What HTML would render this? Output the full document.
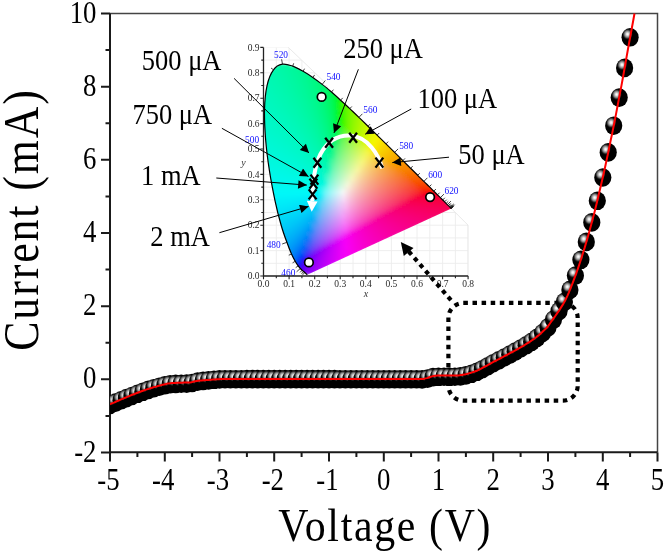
<!DOCTYPE html>
<html><head><meta charset="utf-8"><title>I-V</title>
<style>html,body{margin:0;padding:0;background:#fff;width:666px;height:554px;overflow:hidden}svg{display:block;will-change:transform}</style>
</head><body>
<svg width="666" height="554" viewBox="0 0 666 554">
<defs>
<radialGradient id="bg" cx="0.35" cy="0.33" r="0.3" fx="0.35" fy="0.33"><stop offset="0" stop-color="#ffffff"/><stop offset="0.2" stop-color="#e8e8e8"/><stop offset="0.55" stop-color="#8a8a8a"/><stop offset="0.85" stop-color="#1a1a1a"/><stop offset="1" stop-color="#000"/></radialGradient>
<ellipse id="ball" cx="0" cy="0" rx="8.6" ry="9.3" fill="url(#bg)"/>
<clipPath id="lc"><path d="M307.3,274.7C307.3,274.7 307.2,274.6 307.1,274.5C307.0,274.5 306.8,274.4 306.7,274.2C306.6,274.1 306.4,274.0 306.2,273.8C306.0,273.6 305.8,273.5 305.6,273.2C305.3,273.0 305.0,272.8 304.7,272.5C304.4,272.2 304.0,271.9 303.6,271.5C303.1,271.1 302.7,270.7 302.1,270.2C301.6,269.7 301.0,269.2 300.3,268.5C299.7,267.7 299.0,267.1 298.2,265.9C297.3,264.7 296.3,263.3 295.2,261.3C294.1,259.3 292.9,257.1 291.5,254.0C290.1,250.8 288.6,247.1 286.9,242.3C285.1,237.5 283.0,231.9 281.1,225.0C279.1,218.2 277.0,210.0 275.1,201.1C273.2,192.1 271.1,181.5 269.5,171.2C267.9,160.9 266.4,149.5 265.6,139.2C264.8,129.0 264.3,118.6 264.5,109.7C264.7,100.7 265.6,92.1 267.1,85.4C268.5,78.8 270.9,73.3 273.5,69.8C276.0,66.2 279.3,64.8 282.5,64.2C285.7,63.6 289.3,65.0 292.7,66.1C296.1,67.3 299.7,69.4 303.1,71.3C306.4,73.2 309.7,75.3 312.8,77.5C316.0,79.7 319.1,82.0 322.2,84.4C325.3,86.8 328.4,89.4 331.5,92.0C334.6,94.7 337.6,97.4 340.6,100.2C343.7,102.9 346.7,105.8 349.8,108.6C352.8,111.5 355.9,114.4 358.9,117.4C362.0,120.3 365.0,123.3 368.0,126.2C371.1,129.2 374.1,132.2 377.1,135.1C380.1,138.0 383.1,141.0 386.0,143.9C388.9,146.8 391.8,149.6 394.6,152.4C397.4,155.2 400.2,157.9 402.9,160.6C405.5,163.2 408.2,165.8 410.6,168.3C413.1,170.7 415.5,173.1 417.7,175.3C419.9,177.5 422.0,179.5 423.9,181.4C425.8,183.3 427.7,185.1 429.3,186.7C431.0,188.4 432.5,189.8 433.8,191.2C435.2,192.5 436.4,193.7 437.5,194.8C438.6,195.9 439.5,196.8 440.4,197.7C441.3,198.6 442.0,199.3 442.7,200.0C443.4,200.7 444.0,201.3 444.6,201.8C445.2,202.4 445.7,202.9 446.1,203.4C446.6,203.9 447.0,204.3 447.4,204.7C447.8,205.0 448.1,205.3 448.4,205.6C448.7,205.9 449.0,206.2 449.2,206.4C449.4,206.6 449.6,206.8 449.8,207.0C450.0,207.2 450.1,207.3 450.2,207.4C450.4,207.5 450.4,207.6 450.5,207.7C450.6,207.8 450.7,207.9 450.7,207.9C450.8,208.0 450.9,208.0 450.9,208.1C451.0,208.2 451.0,208.2 451.1,208.3C451.2,208.3 451.2,208.4 451.3,208.4C451.3,208.5 451.3,208.5 451.4,208.5C451.4,208.6 451.4,208.6 451.4,208.6C451.4,208.6 451.4,208.6 451.4,208.6Z"/></clipPath>
<linearGradient id="g0" x1="0" x2="1" y1="0" y2="0"><stop offset="0.000" stop-color="#00f8a8"/><stop offset="0.500" stop-color="#00f8a3"/><stop offset="1.000" stop-color="#00f89e"/></linearGradient><linearGradient id="g1" x1="0" x2="1" y1="0" y2="0"><stop offset="0.000" stop-color="#00f8ab"/><stop offset="0.333" stop-color="#00f8a5"/><stop offset="0.667" stop-color="#00f89e"/><stop offset="1.000" stop-color="#00f896"/></linearGradient><linearGradient id="g2" x1="0" x2="1" y1="0" y2="0"><stop offset="0.000" stop-color="#00f8ae"/><stop offset="0.200" stop-color="#00f8aa"/><stop offset="0.400" stop-color="#00f8a5"/><stop offset="0.600" stop-color="#00f8a0"/><stop offset="0.800" stop-color="#00f899"/><stop offset="1.000" stop-color="#00f892"/></linearGradient><linearGradient id="g3" x1="0" x2="1" y1="0" y2="0"><stop offset="0.000" stop-color="#00f8b0"/><stop offset="0.167" stop-color="#00f8ac"/><stop offset="0.333" stop-color="#00f8a7"/><stop offset="0.500" stop-color="#00f8a2"/><stop offset="0.667" stop-color="#00f89c"/><stop offset="0.833" stop-color="#00f895"/><stop offset="1.000" stop-color="#00f88d"/></linearGradient><linearGradient id="g4" x1="0" x2="1" y1="0" y2="0"><stop offset="0.000" stop-color="#00f8b1"/><stop offset="0.167" stop-color="#00f8ad"/><stop offset="0.333" stop-color="#00f8a8"/><stop offset="0.500" stop-color="#00f8a2"/><stop offset="0.667" stop-color="#00f89b"/><stop offset="0.833" stop-color="#00f893"/><stop offset="1.000" stop-color="#00f88a"/></linearGradient><linearGradient id="g5" x1="0" x2="1" y1="0" y2="0"><stop offset="0.000" stop-color="#00f8b2"/><stop offset="0.143" stop-color="#00f8ae"/><stop offset="0.286" stop-color="#00f8aa"/><stop offset="0.429" stop-color="#00f8a5"/><stop offset="0.571" stop-color="#00f89f"/><stop offset="0.714" stop-color="#00f898"/><stop offset="0.857" stop-color="#00f890"/><stop offset="1.000" stop-color="#00f886"/></linearGradient><linearGradient id="g6" x1="0" x2="1" y1="0" y2="0"><stop offset="0.000" stop-color="#00f8b4"/><stop offset="0.125" stop-color="#00f8b0"/><stop offset="0.250" stop-color="#00f8ac"/><stop offset="0.375" stop-color="#00f8a7"/><stop offset="0.500" stop-color="#00f8a1"/><stop offset="0.625" stop-color="#00f89b"/><stop offset="0.750" stop-color="#00f893"/><stop offset="0.875" stop-color="#00f88a"/><stop offset="1.000" stop-color="#00f87f"/></linearGradient><linearGradient id="g7" x1="0" x2="1" y1="0" y2="0"><stop offset="0.000" stop-color="#00f8b5"/><stop offset="0.125" stop-color="#00f8b1"/><stop offset="0.250" stop-color="#00f8ad"/><stop offset="0.375" stop-color="#00f8a8"/><stop offset="0.500" stop-color="#00f8a2"/><stop offset="0.625" stop-color="#00f89b"/><stop offset="0.750" stop-color="#00f893"/><stop offset="0.875" stop-color="#00f888"/><stop offset="1.000" stop-color="#00f87c"/></linearGradient><linearGradient id="g8" x1="0" x2="1" y1="0" y2="0"><stop offset="0.000" stop-color="#00f8b7"/><stop offset="0.111" stop-color="#00f8b3"/><stop offset="0.222" stop-color="#00f8af"/><stop offset="0.333" stop-color="#00f8aa"/><stop offset="0.444" stop-color="#00f8a5"/><stop offset="0.556" stop-color="#00f89e"/><stop offset="0.667" stop-color="#00f897"/><stop offset="0.778" stop-color="#00f88e"/><stop offset="0.889" stop-color="#00f883"/><stop offset="1.000" stop-color="#00f876"/></linearGradient><linearGradient id="g9" x1="0" x2="1" y1="0" y2="0"><stop offset="0.000" stop-color="#00f8b7"/><stop offset="0.111" stop-color="#00f8b3"/><stop offset="0.222" stop-color="#00f8af"/><stop offset="0.333" stop-color="#00f8aa"/><stop offset="0.444" stop-color="#00f8a4"/><stop offset="0.556" stop-color="#00f89e"/><stop offset="0.667" stop-color="#00f895"/><stop offset="0.778" stop-color="#00f88c"/><stop offset="0.889" stop-color="#00f87f"/><stop offset="1.000" stop-color="#00f86e"/></linearGradient><linearGradient id="g10" x1="0" x2="1" y1="0" y2="0"><stop offset="0.000" stop-color="#00f8b9"/><stop offset="0.100" stop-color="#00f8b5"/><stop offset="0.200" stop-color="#00f8b1"/><stop offset="0.300" stop-color="#00f8ac"/><stop offset="0.400" stop-color="#00f8a7"/><stop offset="0.500" stop-color="#00f8a1"/><stop offset="0.600" stop-color="#00f89a"/><stop offset="0.700" stop-color="#00f891"/><stop offset="0.800" stop-color="#00f886"/><stop offset="0.900" stop-color="#00f878"/><stop offset="1.000" stop-color="#00f865"/></linearGradient><linearGradient id="g11" x1="0" x2="1" y1="0" y2="0"><stop offset="0.000" stop-color="#00f8ba"/><stop offset="0.091" stop-color="#00f8b7"/><stop offset="0.182" stop-color="#00f8b3"/><stop offset="0.273" stop-color="#00f8af"/><stop offset="0.364" stop-color="#00f8aa"/><stop offset="0.455" stop-color="#00f8a4"/><stop offset="0.545" stop-color="#00f89e"/><stop offset="0.636" stop-color="#00f896"/><stop offset="0.727" stop-color="#00f88d"/><stop offset="0.818" stop-color="#00f882"/><stop offset="0.909" stop-color="#00f873"/><stop offset="1.000" stop-color="#00f85f"/></linearGradient><linearGradient id="g12" x1="0" x2="1" y1="0" y2="0"><stop offset="0.000" stop-color="#00f8bb"/><stop offset="0.091" stop-color="#00f8b7"/><stop offset="0.182" stop-color="#00f8b4"/><stop offset="0.273" stop-color="#00f8af"/><stop offset="0.364" stop-color="#00f8aa"/><stop offset="0.455" stop-color="#00f8a4"/><stop offset="0.545" stop-color="#00f89e"/><stop offset="0.636" stop-color="#00f896"/><stop offset="0.727" stop-color="#00f88c"/><stop offset="0.818" stop-color="#00f880"/><stop offset="0.909" stop-color="#00f86f"/><stop offset="1.000" stop-color="#00f857"/></linearGradient><linearGradient id="g13" x1="0" x2="1" y1="0" y2="0"><stop offset="0.000" stop-color="#00f8bc"/><stop offset="0.091" stop-color="#00f8b8"/><stop offset="0.182" stop-color="#00f8b4"/><stop offset="0.273" stop-color="#00f8af"/><stop offset="0.364" stop-color="#00f8aa"/><stop offset="0.455" stop-color="#00f8a4"/><stop offset="0.545" stop-color="#00f89d"/><stop offset="0.636" stop-color="#00f894"/><stop offset="0.727" stop-color="#00f889"/><stop offset="0.818" stop-color="#00f87b"/><stop offset="0.909" stop-color="#00f867"/><stop offset="1.000" stop-color="#00f847"/></linearGradient><linearGradient id="g14" x1="0" x2="1" y1="0" y2="0"><stop offset="0.000" stop-color="#00f8bc"/><stop offset="0.083" stop-color="#00f8b9"/><stop offset="0.167" stop-color="#00f8b5"/><stop offset="0.250" stop-color="#00f8b1"/><stop offset="0.333" stop-color="#00f8ac"/><stop offset="0.417" stop-color="#00f8a7"/><stop offset="0.500" stop-color="#00f8a0"/><stop offset="0.583" stop-color="#00f899"/><stop offset="0.667" stop-color="#00f88f"/><stop offset="0.750" stop-color="#00f884"/><stop offset="0.833" stop-color="#00f874"/><stop offset="0.917" stop-color="#00f85e"/><stop offset="1.000" stop-color="#00f838"/></linearGradient><linearGradient id="g15" x1="0" x2="1" y1="0" y2="0"><stop offset="0.000" stop-color="#00f8bd"/><stop offset="0.083" stop-color="#00f8ba"/><stop offset="0.167" stop-color="#00f8b6"/><stop offset="0.250" stop-color="#00f8b2"/><stop offset="0.333" stop-color="#00f8ad"/><stop offset="0.417" stop-color="#00f8a7"/><stop offset="0.500" stop-color="#00f8a0"/><stop offset="0.583" stop-color="#00f898"/><stop offset="0.667" stop-color="#00f88e"/><stop offset="0.750" stop-color="#00f881"/><stop offset="0.833" stop-color="#00f870"/><stop offset="0.917" stop-color="#00f857"/><stop offset="1.000" stop-color="#00f81f"/></linearGradient><linearGradient id="g16" x1="0" x2="1" y1="0" y2="0"><stop offset="0.000" stop-color="#00f8bf"/><stop offset="0.077" stop-color="#00f8bb"/><stop offset="0.154" stop-color="#00f8b8"/><stop offset="0.231" stop-color="#00f8b4"/><stop offset="0.308" stop-color="#00f8af"/><stop offset="0.385" stop-color="#00f8aa"/><stop offset="0.462" stop-color="#00f8a4"/><stop offset="0.538" stop-color="#00f89c"/><stop offset="0.615" stop-color="#00f893"/><stop offset="0.692" stop-color="#00f888"/><stop offset="0.769" stop-color="#00f87a"/><stop offset="0.846" stop-color="#00f865"/><stop offset="0.923" stop-color="#00f844"/><stop offset="1.000" stop-color="#30f800"/></linearGradient><linearGradient id="g17" x1="0" x2="1" y1="0" y2="0"><stop offset="0.000" stop-color="#00f8c0"/><stop offset="0.077" stop-color="#00f8bc"/><stop offset="0.154" stop-color="#00f8b9"/><stop offset="0.231" stop-color="#00f8b4"/><stop offset="0.308" stop-color="#00f8b0"/><stop offset="0.385" stop-color="#00f8aa"/><stop offset="0.462" stop-color="#00f8a4"/><stop offset="0.538" stop-color="#00f89c"/><stop offset="0.615" stop-color="#00f892"/><stop offset="0.692" stop-color="#00f886"/><stop offset="0.769" stop-color="#00f877"/><stop offset="0.846" stop-color="#00f85f"/><stop offset="0.923" stop-color="#00f834"/><stop offset="1.000" stop-color="#45f800"/></linearGradient><linearGradient id="g18" x1="0" x2="1" y1="0" y2="0"><stop offset="0.000" stop-color="#00f8c0"/><stop offset="0.077" stop-color="#00f8bd"/><stop offset="0.154" stop-color="#00f8b9"/><stop offset="0.231" stop-color="#00f8b5"/><stop offset="0.308" stop-color="#00f8b0"/><stop offset="0.385" stop-color="#00f8aa"/><stop offset="0.462" stop-color="#00f8a4"/><stop offset="0.538" stop-color="#00f89c"/><stop offset="0.615" stop-color="#00f892"/><stop offset="0.692" stop-color="#00f885"/><stop offset="0.769" stop-color="#00f873"/><stop offset="0.846" stop-color="#00f858"/><stop offset="0.923" stop-color="#00f819"/><stop offset="1.000" stop-color="#55f800"/></linearGradient><linearGradient id="g19" x1="0" x2="1" y1="0" y2="0"><stop offset="0.000" stop-color="#00f8c1"/><stop offset="0.071" stop-color="#00f8be"/><stop offset="0.143" stop-color="#00f8bb"/><stop offset="0.214" stop-color="#00f8b7"/><stop offset="0.286" stop-color="#00f8b2"/><stop offset="0.357" stop-color="#00f8ad"/><stop offset="0.429" stop-color="#00f8a7"/><stop offset="0.500" stop-color="#00f8a0"/><stop offset="0.571" stop-color="#00f897"/><stop offset="0.643" stop-color="#00f88c"/><stop offset="0.714" stop-color="#00f87e"/><stop offset="0.786" stop-color="#00f86a"/><stop offset="0.857" stop-color="#00f849"/><stop offset="0.929" stop-color="#2cf800"/><stop offset="1.000" stop-color="#62f800"/></linearGradient><linearGradient id="g20" x1="0" x2="1" y1="0" y2="0"><stop offset="0.000" stop-color="#00f8c2"/><stop offset="0.071" stop-color="#00f8bf"/><stop offset="0.143" stop-color="#00f8bb"/><stop offset="0.214" stop-color="#00f8b7"/><stop offset="0.286" stop-color="#00f8b3"/><stop offset="0.357" stop-color="#00f8ad"/><stop offset="0.429" stop-color="#00f8a7"/><stop offset="0.500" stop-color="#00f8a0"/><stop offset="0.571" stop-color="#00f896"/><stop offset="0.643" stop-color="#00f88a"/><stop offset="0.714" stop-color="#00f87b"/><stop offset="0.786" stop-color="#00f864"/><stop offset="0.857" stop-color="#00f83b"/><stop offset="0.929" stop-color="#42f800"/><stop offset="1.000" stop-color="#6ef800"/></linearGradient><linearGradient id="g21" x1="0" x2="1" y1="0" y2="0"><stop offset="0.000" stop-color="#00f8c3"/><stop offset="0.067" stop-color="#00f8c1"/><stop offset="0.133" stop-color="#00f8bd"/><stop offset="0.200" stop-color="#00f8b9"/><stop offset="0.267" stop-color="#00f8b5"/><stop offset="0.333" stop-color="#00f8b0"/><stop offset="0.400" stop-color="#00f8aa"/><stop offset="0.467" stop-color="#00f8a3"/><stop offset="0.533" stop-color="#00f89b"/><stop offset="0.600" stop-color="#00f891"/><stop offset="0.667" stop-color="#00f883"/><stop offset="0.733" stop-color="#00f870"/><stop offset="0.800" stop-color="#00f853"/><stop offset="0.867" stop-color="#12f800"/><stop offset="0.933" stop-color="#5cf800"/><stop offset="1.000" stop-color="#7ef800"/></linearGradient><linearGradient id="g22" x1="0" x2="1" y1="0" y2="0"><stop offset="0.000" stop-color="#00f8c4"/><stop offset="0.067" stop-color="#00f8c1"/><stop offset="0.133" stop-color="#00f8be"/><stop offset="0.200" stop-color="#00f8ba"/><stop offset="0.267" stop-color="#00f8b6"/><stop offset="0.333" stop-color="#00f8b1"/><stop offset="0.400" stop-color="#00f8ab"/><stop offset="0.467" stop-color="#00f8a3"/><stop offset="0.533" stop-color="#00f89b"/><stop offset="0.600" stop-color="#00f88f"/><stop offset="0.667" stop-color="#00f881"/><stop offset="0.733" stop-color="#00f86c"/><stop offset="0.800" stop-color="#00f849"/><stop offset="0.867" stop-color="#34f800"/><stop offset="0.933" stop-color="#69f800"/><stop offset="1.000" stop-color="#88f800"/></linearGradient><linearGradient id="g23" x1="0" x2="1" y1="0" y2="0"><stop offset="0.000" stop-color="#00f8c5"/><stop offset="0.067" stop-color="#00f8c2"/><stop offset="0.133" stop-color="#00f8bf"/><stop offset="0.200" stop-color="#00f8bb"/><stop offset="0.267" stop-color="#00f8b6"/><stop offset="0.333" stop-color="#00f8b1"/><stop offset="0.400" stop-color="#00f8ab"/><stop offset="0.467" stop-color="#00f8a3"/><stop offset="0.533" stop-color="#00f89a"/><stop offset="0.600" stop-color="#00f88e"/><stop offset="0.667" stop-color="#00f87e"/><stop offset="0.733" stop-color="#00f867"/><stop offset="0.800" stop-color="#00f83c"/><stop offset="0.867" stop-color="#47f800"/><stop offset="0.933" stop-color="#74f800"/><stop offset="1.000" stop-color="#92f800"/></linearGradient><linearGradient id="g24" x1="0" x2="1" y1="0" y2="0"><stop offset="0.000" stop-color="#00f8c6"/><stop offset="0.062" stop-color="#00f8c3"/><stop offset="0.125" stop-color="#00f8c0"/><stop offset="0.188" stop-color="#00f8bc"/><stop offset="0.250" stop-color="#00f8b8"/><stop offset="0.312" stop-color="#00f8b3"/><stop offset="0.375" stop-color="#00f8ae"/><stop offset="0.438" stop-color="#00f8a7"/><stop offset="0.500" stop-color="#00f89f"/><stop offset="0.562" stop-color="#00f895"/><stop offset="0.625" stop-color="#00f887"/><stop offset="0.688" stop-color="#00f875"/><stop offset="0.750" stop-color="#00f858"/><stop offset="0.812" stop-color="#00f800"/><stop offset="0.875" stop-color="#5df800"/><stop offset="0.938" stop-color="#81f800"/><stop offset="1.000" stop-color="#9bf800"/></linearGradient><linearGradient id="g25" x1="0" x2="1" y1="0" y2="0"><stop offset="0.000" stop-color="#00f8c7"/><stop offset="0.062" stop-color="#00f8c4"/><stop offset="0.125" stop-color="#00f8c1"/><stop offset="0.188" stop-color="#00f8bd"/><stop offset="0.250" stop-color="#00f8b9"/><stop offset="0.312" stop-color="#00f8b4"/><stop offset="0.375" stop-color="#00f8ae"/><stop offset="0.438" stop-color="#00f8a7"/><stop offset="0.500" stop-color="#00f89f"/><stop offset="0.562" stop-color="#00f894"/><stop offset="0.625" stop-color="#00f885"/><stop offset="0.688" stop-color="#00f871"/><stop offset="0.750" stop-color="#00f84f"/><stop offset="0.812" stop-color="#2ff800"/><stop offset="0.875" stop-color="#6af800"/><stop offset="0.938" stop-color="#8bf800"/><stop offset="1.000" stop-color="#a4f800"/></linearGradient><linearGradient id="g26" x1="0" x2="1" y1="0" y2="0"><stop offset="0.000" stop-color="#00f8c8"/><stop offset="0.062" stop-color="#00f8c5"/><stop offset="0.125" stop-color="#00f8c2"/><stop offset="0.188" stop-color="#00f8be"/><stop offset="0.250" stop-color="#00f8ba"/><stop offset="0.312" stop-color="#00f8b5"/><stop offset="0.375" stop-color="#00f8af"/><stop offset="0.438" stop-color="#00f8a7"/><stop offset="0.500" stop-color="#00f89e"/><stop offset="0.562" stop-color="#00f893"/><stop offset="0.625" stop-color="#00f883"/><stop offset="0.688" stop-color="#00f86d"/><stop offset="0.750" stop-color="#00f844"/><stop offset="0.812" stop-color="#44f800"/><stop offset="0.875" stop-color="#75f800"/><stop offset="0.938" stop-color="#94f800"/><stop offset="1.000" stop-color="#adf800"/></linearGradient><linearGradient id="g27" x1="0" x2="1" y1="0" y2="0"><stop offset="0.000" stop-color="#00f8c9"/><stop offset="0.059" stop-color="#00f8c6"/><stop offset="0.118" stop-color="#00f8c3"/><stop offset="0.176" stop-color="#00f8c0"/><stop offset="0.235" stop-color="#00f8bc"/><stop offset="0.294" stop-color="#00f8b7"/><stop offset="0.353" stop-color="#00f8b1"/><stop offset="0.412" stop-color="#00f8ab"/><stop offset="0.471" stop-color="#00f8a3"/><stop offset="0.529" stop-color="#00f899"/><stop offset="0.588" stop-color="#00f88c"/><stop offset="0.647" stop-color="#00f879"/><stop offset="0.706" stop-color="#00f85d"/><stop offset="0.765" stop-color="#00f812"/><stop offset="0.824" stop-color="#5ef800"/><stop offset="0.882" stop-color="#84f800"/><stop offset="0.941" stop-color="#9ff800"/><stop offset="1.000" stop-color="#b6f800"/></linearGradient><linearGradient id="g28" x1="0" x2="1" y1="0" y2="0"><stop offset="0.000" stop-color="#00f8ca"/><stop offset="0.059" stop-color="#00f8c7"/><stop offset="0.118" stop-color="#00f8c4"/><stop offset="0.176" stop-color="#00f8c1"/><stop offset="0.235" stop-color="#00f8bc"/><stop offset="0.294" stop-color="#00f8b8"/><stop offset="0.353" stop-color="#00f8b2"/><stop offset="0.412" stop-color="#00f8ab"/><stop offset="0.471" stop-color="#00f8a3"/><stop offset="0.529" stop-color="#00f898"/><stop offset="0.588" stop-color="#00f88a"/><stop offset="0.647" stop-color="#00f876"/><stop offset="0.706" stop-color="#00f855"/><stop offset="0.765" stop-color="#29f800"/><stop offset="0.824" stop-color="#6bf800"/><stop offset="0.882" stop-color="#8ef800"/><stop offset="0.941" stop-color="#a9f800"/><stop offset="1.000" stop-color="#bff800"/></linearGradient><linearGradient id="g29" x1="0" x2="1" y1="0" y2="0"><stop offset="0.000" stop-color="#00f8cb"/><stop offset="0.059" stop-color="#00f8c8"/><stop offset="0.118" stop-color="#00f8c5"/><stop offset="0.176" stop-color="#00f8c1"/><stop offset="0.235" stop-color="#00f8bd"/><stop offset="0.294" stop-color="#00f8b8"/><stop offset="0.353" stop-color="#00f8b2"/><stop offset="0.412" stop-color="#00f8ab"/><stop offset="0.471" stop-color="#00f8a2"/><stop offset="0.529" stop-color="#00f897"/><stop offset="0.588" stop-color="#00f887"/><stop offset="0.647" stop-color="#00f871"/><stop offset="0.706" stop-color="#00f849"/><stop offset="0.765" stop-color="#44f800"/><stop offset="0.824" stop-color="#77f800"/><stop offset="0.882" stop-color="#98f800"/><stop offset="0.941" stop-color="#b2f800"/><stop offset="1.000" stop-color="#c7f800"/></linearGradient><linearGradient id="g30" x1="0" x2="1" y1="0" y2="0"><stop offset="0.000" stop-color="#00f8cc"/><stop offset="0.056" stop-color="#00f8c9"/><stop offset="0.111" stop-color="#00f8c6"/><stop offset="0.167" stop-color="#00f8c3"/><stop offset="0.222" stop-color="#00f8bf"/><stop offset="0.278" stop-color="#00f8ba"/><stop offset="0.333" stop-color="#00f8b5"/><stop offset="0.389" stop-color="#00f8ae"/><stop offset="0.444" stop-color="#00f8a6"/><stop offset="0.500" stop-color="#00f89c"/><stop offset="0.556" stop-color="#00f88f"/><stop offset="0.611" stop-color="#00f87d"/><stop offset="0.667" stop-color="#00f860"/><stop offset="0.722" stop-color="#05f818"/><stop offset="0.778" stop-color="#61f800"/><stop offset="0.833" stop-color="#88f800"/><stop offset="0.889" stop-color="#a5f800"/><stop offset="0.944" stop-color="#bcf800"/><stop offset="1.000" stop-color="#d0f800"/></linearGradient><linearGradient id="g31" x1="0" x2="1" y1="0" y2="0"><stop offset="0.000" stop-color="#00f8cd"/><stop offset="0.056" stop-color="#00f8ca"/><stop offset="0.111" stop-color="#00f8c7"/><stop offset="0.167" stop-color="#00f8c3"/><stop offset="0.222" stop-color="#00f8c0"/><stop offset="0.278" stop-color="#00f8bb"/><stop offset="0.333" stop-color="#00f8b5"/><stop offset="0.389" stop-color="#00f8af"/><stop offset="0.444" stop-color="#00f8a6"/><stop offset="0.500" stop-color="#00f89c"/><stop offset="0.556" stop-color="#00f88e"/><stop offset="0.611" stop-color="#00f87a"/><stop offset="0.667" stop-color="#00f859"/><stop offset="0.722" stop-color="#35f820"/><stop offset="0.778" stop-color="#6ef800"/><stop offset="0.833" stop-color="#92f800"/><stop offset="0.889" stop-color="#aef800"/><stop offset="0.944" stop-color="#c5f800"/><stop offset="1.000" stop-color="#d9f800"/></linearGradient><linearGradient id="g32" x1="0" x2="1" y1="0" y2="0"><stop offset="0.000" stop-color="#00f8ce"/><stop offset="0.056" stop-color="#00f8cb"/><stop offset="0.111" stop-color="#00f8c8"/><stop offset="0.167" stop-color="#00f8c4"/><stop offset="0.222" stop-color="#00f8c0"/><stop offset="0.278" stop-color="#00f8bc"/><stop offset="0.333" stop-color="#00f8b6"/><stop offset="0.389" stop-color="#00f8af"/><stop offset="0.444" stop-color="#00f8a7"/><stop offset="0.500" stop-color="#00f89c"/><stop offset="0.556" stop-color="#00f88d"/><stop offset="0.611" stop-color="#00f877"/><stop offset="0.667" stop-color="#00f850"/><stop offset="0.722" stop-color="#4cf826"/><stop offset="0.778" stop-color="#7af800"/><stop offset="0.833" stop-color="#9cf800"/><stop offset="0.889" stop-color="#b7f800"/><stop offset="0.944" stop-color="#cef800"/><stop offset="1.000" stop-color="#e2f800"/></linearGradient><linearGradient id="g33" x1="0" x2="1" y1="0" y2="0"><stop offset="0.000" stop-color="#00f8cf"/><stop offset="0.053" stop-color="#00f8cc"/><stop offset="0.105" stop-color="#00f8c9"/><stop offset="0.158" stop-color="#00f8c6"/><stop offset="0.211" stop-color="#00f8c2"/><stop offset="0.263" stop-color="#00f8be"/><stop offset="0.316" stop-color="#00f8b9"/><stop offset="0.368" stop-color="#00f8b2"/><stop offset="0.421" stop-color="#00f8ab"/><stop offset="0.474" stop-color="#00f8a1"/><stop offset="0.526" stop-color="#00f894"/><stop offset="0.579" stop-color="#00f882"/><stop offset="0.632" stop-color="#00f866"/><stop offset="0.684" stop-color="#31f83c"/><stop offset="0.737" stop-color="#69f824"/><stop offset="0.789" stop-color="#8df800"/><stop offset="0.842" stop-color="#abf800"/><stop offset="0.895" stop-color="#c3f800"/><stop offset="0.947" stop-color="#d8f800"/><stop offset="1.000" stop-color="#eaf800"/></linearGradient><linearGradient id="g34" x1="0" x2="1" y1="0" y2="0"><stop offset="0.000" stop-color="#00f8d0"/><stop offset="0.053" stop-color="#00f8cd"/><stop offset="0.105" stop-color="#00f8ca"/><stop offset="0.158" stop-color="#00f8c7"/><stop offset="0.211" stop-color="#00f8c3"/><stop offset="0.263" stop-color="#00f8bf"/><stop offset="0.316" stop-color="#00f8b9"/><stop offset="0.368" stop-color="#00f8b3"/><stop offset="0.421" stop-color="#00f8ab"/><stop offset="0.474" stop-color="#00f8a0"/><stop offset="0.526" stop-color="#00f892"/><stop offset="0.579" stop-color="#00f87d"/><stop offset="0.632" stop-color="#00f85b"/><stop offset="0.684" stop-color="#4ff83f"/><stop offset="0.737" stop-color="#7af827"/><stop offset="0.789" stop-color="#9bf800"/><stop offset="0.842" stop-color="#b8f800"/><stop offset="0.895" stop-color="#cff800"/><stop offset="0.947" stop-color="#e4f800"/><stop offset="1.000" stop-color="#f6f800"/></linearGradient><linearGradient id="g35" x1="0" x2="1" y1="0" y2="0"><stop offset="0.000" stop-color="#00f8d1"/><stop offset="0.053" stop-color="#00f8ce"/><stop offset="0.105" stop-color="#00f8cb"/><stop offset="0.158" stop-color="#00f8c8"/><stop offset="0.211" stop-color="#00f8c4"/><stop offset="0.263" stop-color="#00f8c0"/><stop offset="0.316" stop-color="#00f8ba"/><stop offset="0.368" stop-color="#00f8b3"/><stop offset="0.421" stop-color="#00f8ab"/><stop offset="0.474" stop-color="#00f8a0"/><stop offset="0.526" stop-color="#00f891"/><stop offset="0.579" stop-color="#00f87a"/><stop offset="0.632" stop-color="#02f852"/><stop offset="0.684" stop-color="#60f843"/><stop offset="0.737" stop-color="#87f82d"/><stop offset="0.789" stop-color="#a5f800"/><stop offset="0.842" stop-color="#c1f800"/><stop offset="0.895" stop-color="#d9f800"/><stop offset="0.947" stop-color="#edf800"/><stop offset="1.000" stop-color="#f8f200"/></linearGradient><linearGradient id="g36" x1="0" x2="1" y1="0" y2="0"><stop offset="0.000" stop-color="#00f8d2"/><stop offset="0.050" stop-color="#00f8d0"/><stop offset="0.100" stop-color="#00f8cd"/><stop offset="0.150" stop-color="#00f8ca"/><stop offset="0.200" stop-color="#00f8c6"/><stop offset="0.250" stop-color="#00f8c2"/><stop offset="0.300" stop-color="#00f8bd"/><stop offset="0.350" stop-color="#00f8b7"/><stop offset="0.400" stop-color="#00f8af"/><stop offset="0.450" stop-color="#00f8a5"/><stop offset="0.500" stop-color="#00f898"/><stop offset="0.550" stop-color="#00f886"/><stop offset="0.600" stop-color="#00f868"/><stop offset="0.650" stop-color="#4ef851"/><stop offset="0.700" stop-color="#7af842"/><stop offset="0.750" stop-color="#9af82b"/><stop offset="0.800" stop-color="#b5f800"/><stop offset="0.850" stop-color="#cef800"/><stop offset="0.900" stop-color="#e4f800"/><stop offset="0.950" stop-color="#f7f800"/><stop offset="1.000" stop-color="#f8e900"/></linearGradient><linearGradient id="g37" x1="0" x2="1" y1="0" y2="0"><stop offset="0.000" stop-color="#00f8d3"/><stop offset="0.050" stop-color="#00f8d1"/><stop offset="0.100" stop-color="#00f8ce"/><stop offset="0.150" stop-color="#00f8cb"/><stop offset="0.200" stop-color="#00f8c7"/><stop offset="0.250" stop-color="#00f8c3"/><stop offset="0.300" stop-color="#00f8be"/><stop offset="0.350" stop-color="#00f8b7"/><stop offset="0.400" stop-color="#00f8b0"/><stop offset="0.450" stop-color="#00f8a6"/><stop offset="0.500" stop-color="#00f898"/><stop offset="0.550" stop-color="#00f884"/><stop offset="0.600" stop-color="#00f862"/><stop offset="0.650" stop-color="#5ff855"/><stop offset="0.700" stop-color="#86f846"/><stop offset="0.750" stop-color="#a5f831"/><stop offset="0.800" stop-color="#bff800"/><stop offset="0.850" stop-color="#d8f800"/><stop offset="0.900" stop-color="#eef800"/><stop offset="0.950" stop-color="#f8f000"/><stop offset="1.000" stop-color="#f8e100"/></linearGradient><linearGradient id="g38" x1="0" x2="1" y1="0" y2="0"><stop offset="0.000" stop-color="#00f8d4"/><stop offset="0.050" stop-color="#00f8d2"/><stop offset="0.100" stop-color="#00f8cf"/><stop offset="0.150" stop-color="#00f8cc"/><stop offset="0.200" stop-color="#00f8c8"/><stop offset="0.250" stop-color="#00f8c4"/><stop offset="0.300" stop-color="#00f8bf"/><stop offset="0.350" stop-color="#00f8b8"/><stop offset="0.400" stop-color="#00f8b0"/><stop offset="0.450" stop-color="#00f8a6"/><stop offset="0.500" stop-color="#00f897"/><stop offset="0.550" stop-color="#00f881"/><stop offset="0.600" stop-color="#30f864"/><stop offset="0.650" stop-color="#6df859"/><stop offset="0.700" stop-color="#92f84b"/><stop offset="0.750" stop-color="#aff836"/><stop offset="0.800" stop-color="#c9f807"/><stop offset="0.850" stop-color="#e2f800"/><stop offset="0.900" stop-color="#f7f800"/><stop offset="0.950" stop-color="#f8e700"/><stop offset="1.000" stop-color="#f8d900"/></linearGradient><linearGradient id="g39" x1="0" x2="1" y1="0" y2="0"><stop offset="0.000" stop-color="#00f8d5"/><stop offset="0.048" stop-color="#00f8d3"/><stop offset="0.095" stop-color="#00f8d0"/><stop offset="0.143" stop-color="#00f8cd"/><stop offset="0.190" stop-color="#00f8ca"/><stop offset="0.238" stop-color="#00f8c6"/><stop offset="0.286" stop-color="#00f8c1"/><stop offset="0.333" stop-color="#00f8bb"/><stop offset="0.381" stop-color="#00f8b3"/><stop offset="0.429" stop-color="#00f8aa"/><stop offset="0.476" stop-color="#00f89d"/><stop offset="0.524" stop-color="#00f88b"/><stop offset="0.571" stop-color="#08f86d"/><stop offset="0.619" stop-color="#62f864"/><stop offset="0.667" stop-color="#89f858"/><stop offset="0.714" stop-color="#a7f849"/><stop offset="0.762" stop-color="#c1f834"/><stop offset="0.810" stop-color="#d9f800"/><stop offset="0.857" stop-color="#eff800"/><stop offset="0.905" stop-color="#f8ee00"/><stop offset="0.952" stop-color="#f8de00"/><stop offset="1.000" stop-color="#f8d100"/></linearGradient><linearGradient id="g40" x1="0" x2="1" y1="0" y2="0"><stop offset="0.000" stop-color="#00f8d6"/><stop offset="0.048" stop-color="#00f8d4"/><stop offset="0.095" stop-color="#00f8d1"/><stop offset="0.143" stop-color="#00f8ce"/><stop offset="0.190" stop-color="#00f8cb"/><stop offset="0.238" stop-color="#00f8c7"/><stop offset="0.286" stop-color="#00f8c2"/><stop offset="0.333" stop-color="#00f8bc"/><stop offset="0.381" stop-color="#00f8b4"/><stop offset="0.429" stop-color="#00f8aa"/><stop offset="0.476" stop-color="#00f89d"/><stop offset="0.524" stop-color="#00f889"/><stop offset="0.571" stop-color="#35f871"/><stop offset="0.619" stop-color="#70f868"/><stop offset="0.667" stop-color="#94f85c"/><stop offset="0.714" stop-color="#b1f84e"/><stop offset="0.762" stop-color="#cbf83a"/><stop offset="0.810" stop-color="#e3f810"/><stop offset="0.857" stop-color="#f8f800"/><stop offset="0.905" stop-color="#f8e500"/><stop offset="0.952" stop-color="#f8d600"/><stop offset="1.000" stop-color="#f8ca00"/></linearGradient><linearGradient id="g41" x1="0" x2="1" y1="0" y2="0"><stop offset="0.000" stop-color="#00f8d7"/><stop offset="0.048" stop-color="#00f8d5"/><stop offset="0.095" stop-color="#00f8d3"/><stop offset="0.143" stop-color="#00f8d0"/><stop offset="0.190" stop-color="#00f8cc"/><stop offset="0.238" stop-color="#00f8c8"/><stop offset="0.286" stop-color="#00f8c3"/><stop offset="0.333" stop-color="#00f8bd"/><stop offset="0.381" stop-color="#00f8b5"/><stop offset="0.429" stop-color="#00f8ab"/><stop offset="0.476" stop-color="#00f89d"/><stop offset="0.524" stop-color="#00f887"/><stop offset="0.571" stop-color="#4bf875"/><stop offset="0.619" stop-color="#7df86c"/><stop offset="0.667" stop-color="#9ff860"/><stop offset="0.714" stop-color="#bcf852"/><stop offset="0.762" stop-color="#d5f83f"/><stop offset="0.810" stop-color="#edf81c"/><stop offset="0.857" stop-color="#f8ee00"/><stop offset="0.905" stop-color="#f8dc00"/><stop offset="0.952" stop-color="#f8ce00"/><stop offset="1.000" stop-color="#f8c300"/></linearGradient><linearGradient id="g42" x1="0" x2="1" y1="0" y2="0"><stop offset="0.000" stop-color="#00f8d8"/><stop offset="0.045" stop-color="#00f8d6"/><stop offset="0.091" stop-color="#00f8d4"/><stop offset="0.136" stop-color="#00f8d1"/><stop offset="0.182" stop-color="#00f8ce"/><stop offset="0.227" stop-color="#00f8ca"/><stop offset="0.273" stop-color="#00f8c6"/><stop offset="0.318" stop-color="#00f8c0"/><stop offset="0.364" stop-color="#00f8b9"/><stop offset="0.409" stop-color="#00f8b0"/><stop offset="0.455" stop-color="#00f8a4"/><stop offset="0.500" stop-color="#00f892"/><stop offset="0.545" stop-color="#36f87d"/><stop offset="0.591" stop-color="#71f875"/><stop offset="0.636" stop-color="#95f86c"/><stop offset="0.682" stop-color="#b3f861"/><stop offset="0.727" stop-color="#cdf853"/><stop offset="0.773" stop-color="#e5f83f"/><stop offset="0.818" stop-color="#f8f51a"/><stop offset="0.864" stop-color="#f8e200"/><stop offset="0.909" stop-color="#f8d200"/><stop offset="0.955" stop-color="#f8c600"/><stop offset="1.000" stop-color="#f8bc00"/></linearGradient><linearGradient id="g43" x1="0" x2="1" y1="0" y2="0"><stop offset="0.000" stop-color="#00f8d9"/><stop offset="0.045" stop-color="#00f8d7"/><stop offset="0.091" stop-color="#00f8d5"/><stop offset="0.136" stop-color="#00f8d2"/><stop offset="0.182" stop-color="#00f8cf"/><stop offset="0.227" stop-color="#00f8cb"/><stop offset="0.273" stop-color="#00f8c6"/><stop offset="0.318" stop-color="#00f8c1"/><stop offset="0.364" stop-color="#00f8b9"/><stop offset="0.409" stop-color="#00f8b0"/><stop offset="0.455" stop-color="#00f8a2"/><stop offset="0.500" stop-color="#00f88e"/><stop offset="0.545" stop-color="#51f880"/><stop offset="0.591" stop-color="#80f878"/><stop offset="0.636" stop-color="#a2f86f"/><stop offset="0.682" stop-color="#bff864"/><stop offset="0.727" stop-color="#d9f856"/><stop offset="0.773" stop-color="#f1f843"/><stop offset="0.818" stop-color="#f8ea1f"/><stop offset="0.864" stop-color="#f8d800"/><stop offset="0.909" stop-color="#f8ca00"/><stop offset="0.955" stop-color="#f8bf00"/><stop offset="1.000" stop-color="#f8b500"/></linearGradient><linearGradient id="g44" x1="0" x2="1" y1="0" y2="0"><stop offset="0.000" stop-color="#00f8db"/><stop offset="0.045" stop-color="#00f8d9"/><stop offset="0.091" stop-color="#00f8d6"/><stop offset="0.136" stop-color="#00f8d4"/><stop offset="0.182" stop-color="#00f8d0"/><stop offset="0.227" stop-color="#00f8cc"/><stop offset="0.273" stop-color="#00f8c8"/><stop offset="0.318" stop-color="#00f8c2"/><stop offset="0.364" stop-color="#00f8ba"/><stop offset="0.409" stop-color="#00f8b1"/><stop offset="0.455" stop-color="#00f8a2"/><stop offset="0.500" stop-color="#00f88d"/><stop offset="0.545" stop-color="#61f884"/><stop offset="0.591" stop-color="#8cf87d"/><stop offset="0.636" stop-color="#adf874"/><stop offset="0.682" stop-color="#c9f869"/><stop offset="0.727" stop-color="#e3f85b"/><stop offset="0.773" stop-color="#f8f648"/><stop offset="0.818" stop-color="#f8e025"/><stop offset="0.864" stop-color="#f8cf00"/><stop offset="0.909" stop-color="#f8c200"/><stop offset="0.955" stop-color="#f8b700"/><stop offset="1.000" stop-color="#f8ae00"/></linearGradient><linearGradient id="g45" x1="0" x2="1" y1="0" y2="0"><stop offset="0.000" stop-color="#00f8dc"/><stop offset="0.045" stop-color="#00f8da"/><stop offset="0.091" stop-color="#00f8d8"/><stop offset="0.136" stop-color="#00f8d5"/><stop offset="0.182" stop-color="#00f8d2"/><stop offset="0.227" stop-color="#00f8ce"/><stop offset="0.273" stop-color="#00f8c9"/><stop offset="0.318" stop-color="#00f8c3"/><stop offset="0.364" stop-color="#00f8bc"/><stop offset="0.409" stop-color="#00f8b1"/><stop offset="0.455" stop-color="#00f8a3"/><stop offset="0.500" stop-color="#28f88f"/><stop offset="0.545" stop-color="#70f888"/><stop offset="0.591" stop-color="#97f881"/><stop offset="0.636" stop-color="#b7f878"/><stop offset="0.682" stop-color="#d4f86d"/><stop offset="0.727" stop-color="#eef860"/><stop offset="0.773" stop-color="#f8eb49"/><stop offset="0.818" stop-color="#f8d72a"/><stop offset="0.864" stop-color="#f8c700"/><stop offset="0.909" stop-color="#f8bb00"/><stop offset="0.955" stop-color="#f8b000"/><stop offset="1.000" stop-color="#f8a800"/></linearGradient><linearGradient id="g46" x1="0" x2="1" y1="0" y2="0"><stop offset="0.000" stop-color="#00f8dd"/><stop offset="0.043" stop-color="#00f8db"/><stop offset="0.087" stop-color="#00f8d9"/><stop offset="0.130" stop-color="#00f8d7"/><stop offset="0.174" stop-color="#00f8d4"/><stop offset="0.217" stop-color="#00f8d0"/><stop offset="0.261" stop-color="#00f8cc"/><stop offset="0.304" stop-color="#00f8c7"/><stop offset="0.348" stop-color="#00f8c0"/><stop offset="0.391" stop-color="#00f8b7"/><stop offset="0.435" stop-color="#00f8aa"/><stop offset="0.478" stop-color="#00f897"/><stop offset="0.522" stop-color="#63f890"/><stop offset="0.565" stop-color="#8ef889"/><stop offset="0.609" stop-color="#aff882"/><stop offset="0.652" stop-color="#ccf879"/><stop offset="0.696" stop-color="#e6f86e"/><stop offset="0.739" stop-color="#f8f25e"/><stop offset="0.783" stop-color="#f8dd45"/><stop offset="0.826" stop-color="#f8cb27"/><stop offset="0.870" stop-color="#f8bd00"/><stop offset="0.913" stop-color="#f8b200"/><stop offset="0.957" stop-color="#f8a900"/><stop offset="1.000" stop-color="#f8a100"/></linearGradient><linearGradient id="g47" x1="0" x2="1" y1="0" y2="0"><stop offset="0.000" stop-color="#00f8de"/><stop offset="0.043" stop-color="#00f8dc"/><stop offset="0.087" stop-color="#00f8da"/><stop offset="0.130" stop-color="#00f8d8"/><stop offset="0.174" stop-color="#00f8d5"/><stop offset="0.217" stop-color="#00f8d1"/><stop offset="0.261" stop-color="#00f8cd"/><stop offset="0.304" stop-color="#00f8c7"/><stop offset="0.348" stop-color="#00f8c0"/><stop offset="0.391" stop-color="#00f8b7"/><stop offset="0.435" stop-color="#00f8a9"/><stop offset="0.478" stop-color="#34f899"/><stop offset="0.522" stop-color="#75f893"/><stop offset="0.565" stop-color="#9cf88d"/><stop offset="0.609" stop-color="#bcf886"/><stop offset="0.652" stop-color="#d8f87d"/><stop offset="0.696" stop-color="#f2f872"/><stop offset="0.739" stop-color="#f8e75d"/><stop offset="0.783" stop-color="#f8d346"/><stop offset="0.826" stop-color="#f8c32a"/><stop offset="0.870" stop-color="#f8b500"/><stop offset="0.913" stop-color="#f8ab00"/><stop offset="0.957" stop-color="#f8a200"/><stop offset="1.000" stop-color="#f89b00"/></linearGradient><linearGradient id="g48" x1="0" x2="1" y1="0" y2="0"><stop offset="0.000" stop-color="#00f8e0"/><stop offset="0.043" stop-color="#00f8de"/><stop offset="0.087" stop-color="#00f8dc"/><stop offset="0.130" stop-color="#00f8d9"/><stop offset="0.174" stop-color="#00f8d6"/><stop offset="0.217" stop-color="#00f8d3"/><stop offset="0.261" stop-color="#00f8cf"/><stop offset="0.304" stop-color="#00f8c9"/><stop offset="0.348" stop-color="#00f8c2"/><stop offset="0.391" stop-color="#00f8b8"/><stop offset="0.435" stop-color="#00f8aa"/><stop offset="0.478" stop-color="#4bf89d"/><stop offset="0.522" stop-color="#82f898"/><stop offset="0.565" stop-color="#a7f891"/><stop offset="0.609" stop-color="#c6f88a"/><stop offset="0.652" stop-color="#e3f882"/><stop offset="0.696" stop-color="#f8f475"/><stop offset="0.739" stop-color="#f8dd5e"/><stop offset="0.783" stop-color="#f8cb47"/><stop offset="0.826" stop-color="#f8bb2d"/><stop offset="0.870" stop-color="#f8ad00"/><stop offset="0.913" stop-color="#f8a300"/><stop offset="0.957" stop-color="#f89b00"/><stop offset="1.000" stop-color="#f89400"/></linearGradient><linearGradient id="g49" x1="0" x2="1" y1="0" y2="0"><stop offset="0.000" stop-color="#00f8e1"/><stop offset="0.042" stop-color="#00f8df"/><stop offset="0.083" stop-color="#00f8dd"/><stop offset="0.125" stop-color="#00f8db"/><stop offset="0.167" stop-color="#00f8d8"/><stop offset="0.208" stop-color="#00f8d5"/><stop offset="0.250" stop-color="#00f8d1"/><stop offset="0.292" stop-color="#00f8cd"/><stop offset="0.333" stop-color="#00f8c6"/><stop offset="0.375" stop-color="#00f8be"/><stop offset="0.417" stop-color="#00f8b2"/><stop offset="0.458" stop-color="#38f8a4"/><stop offset="0.500" stop-color="#78f89f"/><stop offset="0.542" stop-color="#9ff899"/><stop offset="0.583" stop-color="#bff893"/><stop offset="0.625" stop-color="#dcf88c"/><stop offset="0.667" stop-color="#f6f883"/><stop offset="0.708" stop-color="#f8e36e"/><stop offset="0.750" stop-color="#f8cf59"/><stop offset="0.792" stop-color="#f8bf44"/><stop offset="0.833" stop-color="#f8b12b"/><stop offset="0.875" stop-color="#f8a400"/><stop offset="0.917" stop-color="#f89c00"/><stop offset="0.958" stop-color="#f89400"/><stop offset="1.000" stop-color="#f88e00"/></linearGradient><linearGradient id="g50" x1="0" x2="1" y1="0" y2="0"><stop offset="0.000" stop-color="#00f8e2"/><stop offset="0.042" stop-color="#00f8e1"/><stop offset="0.083" stop-color="#00f8df"/><stop offset="0.125" stop-color="#00f8dd"/><stop offset="0.167" stop-color="#00f8da"/><stop offset="0.208" stop-color="#00f8d7"/><stop offset="0.250" stop-color="#00f8d3"/><stop offset="0.292" stop-color="#00f8ce"/><stop offset="0.333" stop-color="#00f8c8"/><stop offset="0.375" stop-color="#00f8bf"/><stop offset="0.417" stop-color="#00f8b3"/><stop offset="0.458" stop-color="#4ef8a8"/><stop offset="0.500" stop-color="#85f8a3"/><stop offset="0.542" stop-color="#aaf89e"/><stop offset="0.583" stop-color="#caf898"/><stop offset="0.625" stop-color="#e7f891"/><stop offset="0.667" stop-color="#f8f083"/><stop offset="0.708" stop-color="#f8d96e"/><stop offset="0.750" stop-color="#f8c759"/><stop offset="0.792" stop-color="#f8b745"/><stop offset="0.833" stop-color="#f8a92d"/><stop offset="0.875" stop-color="#f89d00"/><stop offset="0.917" stop-color="#f89500"/><stop offset="0.958" stop-color="#f88e00"/><stop offset="1.000" stop-color="#f88800"/></linearGradient><linearGradient id="g51" x1="0" x2="1" y1="0" y2="0"><stop offset="0.000" stop-color="#00f8e4"/><stop offset="0.042" stop-color="#00f8e2"/><stop offset="0.083" stop-color="#00f8e0"/><stop offset="0.125" stop-color="#00f8de"/><stop offset="0.167" stop-color="#00f8db"/><stop offset="0.208" stop-color="#00f8d8"/><stop offset="0.250" stop-color="#00f8d5"/><stop offset="0.292" stop-color="#00f8d0"/><stop offset="0.333" stop-color="#00f8c9"/><stop offset="0.375" stop-color="#00f8c0"/><stop offset="0.417" stop-color="#00f8b2"/><stop offset="0.458" stop-color="#65f8ac"/><stop offset="0.500" stop-color="#94f8a8"/><stop offset="0.542" stop-color="#b8f8a2"/><stop offset="0.583" stop-color="#d7f89c"/><stop offset="0.625" stop-color="#f3f896"/><stop offset="0.667" stop-color="#f8e481"/><stop offset="0.708" stop-color="#f8cf6d"/><stop offset="0.750" stop-color="#f8be59"/><stop offset="0.792" stop-color="#f8af45"/><stop offset="0.833" stop-color="#f8a12f"/><stop offset="0.875" stop-color="#f89509"/><stop offset="0.917" stop-color="#f88d00"/><stop offset="0.958" stop-color="#f88700"/><stop offset="1.000" stop-color="#f88100"/></linearGradient><linearGradient id="g52" x1="0" x2="1" y1="0" y2="0"><stop offset="0.000" stop-color="#00f8e5"/><stop offset="0.042" stop-color="#00f8e3"/><stop offset="0.083" stop-color="#00f8e2"/><stop offset="0.125" stop-color="#00f8e0"/><stop offset="0.167" stop-color="#00f8dd"/><stop offset="0.208" stop-color="#00f8da"/><stop offset="0.250" stop-color="#00f8d6"/><stop offset="0.292" stop-color="#00f8d2"/><stop offset="0.333" stop-color="#00f8cb"/><stop offset="0.375" stop-color="#00f8c2"/><stop offset="0.417" stop-color="#1cf8b5"/><stop offset="0.458" stop-color="#73f8b1"/><stop offset="0.500" stop-color="#9ff8ac"/><stop offset="0.542" stop-color="#c2f8a7"/><stop offset="0.583" stop-color="#e1f8a2"/><stop offset="0.625" stop-color="#f8f397"/><stop offset="0.667" stop-color="#f8da80"/><stop offset="0.708" stop-color="#f8c76c"/><stop offset="0.750" stop-color="#f8b65a"/><stop offset="0.792" stop-color="#f8a747"/><stop offset="0.833" stop-color="#f89a31"/><stop offset="0.875" stop-color="#f88e11"/><stop offset="0.917" stop-color="#f88600"/><stop offset="0.958" stop-color="#f88000"/><stop offset="1.000" stop-color="#f87b00"/></linearGradient><linearGradient id="g53" x1="0" x2="1" y1="0" y2="0"><stop offset="0.000" stop-color="#00f8e6"/><stop offset="0.040" stop-color="#00f8e5"/><stop offset="0.080" stop-color="#00f8e4"/><stop offset="0.120" stop-color="#00f8e2"/><stop offset="0.160" stop-color="#00f8e0"/><stop offset="0.200" stop-color="#00f8dd"/><stop offset="0.240" stop-color="#00f8d9"/><stop offset="0.280" stop-color="#00f8d5"/><stop offset="0.320" stop-color="#00f8d0"/><stop offset="0.360" stop-color="#00f8c8"/><stop offset="0.400" stop-color="#00f8bc"/><stop offset="0.440" stop-color="#69f8b7"/><stop offset="0.480" stop-color="#98f8b3"/><stop offset="0.520" stop-color="#bcf8af"/><stop offset="0.560" stop-color="#dbf8aa"/><stop offset="0.600" stop-color="#f8f8a5"/><stop offset="0.640" stop-color="#f8df8d"/><stop offset="0.680" stop-color="#f8cb79"/><stop offset="0.720" stop-color="#f8b967"/><stop offset="0.760" stop-color="#f8aa56"/><stop offset="0.800" stop-color="#f89d44"/><stop offset="0.840" stop-color="#f8912f"/><stop offset="0.880" stop-color="#f88610"/><stop offset="0.920" stop-color="#f87f00"/><stop offset="0.960" stop-color="#f87900"/><stop offset="1.000" stop-color="#f87500"/></linearGradient><linearGradient id="g54" x1="0" x2="1" y1="0" y2="0"><stop offset="0.000" stop-color="#00f8e8"/><stop offset="0.040" stop-color="#00f8e7"/><stop offset="0.080" stop-color="#00f8e5"/><stop offset="0.120" stop-color="#00f8e4"/><stop offset="0.160" stop-color="#00f8e1"/><stop offset="0.200" stop-color="#00f8df"/><stop offset="0.240" stop-color="#00f8dc"/><stop offset="0.280" stop-color="#00f8d7"/><stop offset="0.320" stop-color="#00f8d2"/><stop offset="0.360" stop-color="#00f8ca"/><stop offset="0.400" stop-color="#25f8bf"/><stop offset="0.440" stop-color="#77f8bc"/><stop offset="0.480" stop-color="#a3f8b9"/><stop offset="0.520" stop-color="#c7f8b4"/><stop offset="0.560" stop-color="#e6f8b0"/><stop offset="0.600" stop-color="#f8eda2"/><stop offset="0.640" stop-color="#f8d68c"/><stop offset="0.680" stop-color="#f8c279"/><stop offset="0.720" stop-color="#f8b167"/><stop offset="0.760" stop-color="#f8a356"/><stop offset="0.800" stop-color="#f89645"/><stop offset="0.840" stop-color="#f88a31"/><stop offset="0.880" stop-color="#f87f16"/><stop offset="0.920" stop-color="#f87700"/><stop offset="0.960" stop-color="#f87200"/><stop offset="1.000" stop-color="#f86e00"/></linearGradient><linearGradient id="g55" x1="0" x2="1" y1="0" y2="0"><stop offset="0.000" stop-color="#00f8e9"/><stop offset="0.040" stop-color="#00f8e8"/><stop offset="0.080" stop-color="#00f8e7"/><stop offset="0.120" stop-color="#00f8e5"/><stop offset="0.160" stop-color="#00f8e3"/><stop offset="0.200" stop-color="#00f8e1"/><stop offset="0.240" stop-color="#00f8dd"/><stop offset="0.280" stop-color="#00f8d9"/><stop offset="0.320" stop-color="#00f8d4"/><stop offset="0.360" stop-color="#00f8cc"/><stop offset="0.400" stop-color="#4cf8c4"/><stop offset="0.440" stop-color="#89f8c1"/><stop offset="0.480" stop-color="#b2f8be"/><stop offset="0.520" stop-color="#d4f8ba"/><stop offset="0.560" stop-color="#f4f8b5"/><stop offset="0.600" stop-color="#f8e19f"/><stop offset="0.640" stop-color="#f8cb8a"/><stop offset="0.680" stop-color="#f8b977"/><stop offset="0.720" stop-color="#f8a966"/><stop offset="0.760" stop-color="#f89b56"/><stop offset="0.800" stop-color="#f88e45"/><stop offset="0.840" stop-color="#f88333"/><stop offset="0.880" stop-color="#f87819"/><stop offset="0.920" stop-color="#f87000"/><stop offset="0.960" stop-color="#f86b00"/><stop offset="1.000" stop-color="#f86700"/></linearGradient><linearGradient id="g56" x1="0" x2="1" y1="0" y2="0"><stop offset="0.000" stop-color="#00f8eb"/><stop offset="0.038" stop-color="#00f8ea"/><stop offset="0.077" stop-color="#00f8e9"/><stop offset="0.115" stop-color="#00f8e7"/><stop offset="0.154" stop-color="#00f8e5"/><stop offset="0.192" stop-color="#00f8e3"/><stop offset="0.231" stop-color="#00f8e1"/><stop offset="0.269" stop-color="#00f8dd"/><stop offset="0.308" stop-color="#00f8d8"/><stop offset="0.346" stop-color="#00f8d2"/><stop offset="0.385" stop-color="#3cf8ca"/><stop offset="0.423" stop-color="#81f8c7"/><stop offset="0.462" stop-color="#abf8c5"/><stop offset="0.500" stop-color="#cff8c1"/><stop offset="0.538" stop-color="#eff8bd"/><stop offset="0.577" stop-color="#f8e6ab"/><stop offset="0.615" stop-color="#f8cf95"/><stop offset="0.654" stop-color="#f8bc83"/><stop offset="0.692" stop-color="#f8ac72"/><stop offset="0.731" stop-color="#f89d62"/><stop offset="0.769" stop-color="#f89153"/><stop offset="0.808" stop-color="#f88543"/><stop offset="0.846" stop-color="#f87a31"/><stop offset="0.885" stop-color="#f86f19"/><stop offset="0.923" stop-color="#f86800"/><stop offset="0.962" stop-color="#f86400"/><stop offset="1.000" stop-color="#f86000"/></linearGradient><linearGradient id="g57" x1="0" x2="1" y1="0" y2="0"><stop offset="0.000" stop-color="#00f8ec"/><stop offset="0.038" stop-color="#00f8eb"/><stop offset="0.077" stop-color="#00f8ea"/><stop offset="0.115" stop-color="#00f8e9"/><stop offset="0.154" stop-color="#00f8e7"/><stop offset="0.192" stop-color="#00f8e5"/><stop offset="0.231" stop-color="#00f8e3"/><stop offset="0.269" stop-color="#00f8df"/><stop offset="0.308" stop-color="#00f8db"/><stop offset="0.346" stop-color="#00f8d4"/><stop offset="0.385" stop-color="#5af8cf"/><stop offset="0.423" stop-color="#92f8cd"/><stop offset="0.462" stop-color="#baf8ca"/><stop offset="0.500" stop-color="#ddf8c7"/><stop offset="0.538" stop-color="#f8f4c0"/><stop offset="0.577" stop-color="#f8daa7"/><stop offset="0.615" stop-color="#f8c593"/><stop offset="0.654" stop-color="#f8b381"/><stop offset="0.692" stop-color="#f8a371"/><stop offset="0.731" stop-color="#f89562"/><stop offset="0.769" stop-color="#f88953"/><stop offset="0.808" stop-color="#f87d43"/><stop offset="0.846" stop-color="#f87232"/><stop offset="0.885" stop-color="#f8681b"/><stop offset="0.923" stop-color="#f86000"/><stop offset="0.962" stop-color="#f85c00"/><stop offset="1.000" stop-color="#f85900"/></linearGradient><linearGradient id="g58" x1="0" x2="1" y1="0" y2="0"><stop offset="0.000" stop-color="#00f8ee"/><stop offset="0.038" stop-color="#00f8ed"/><stop offset="0.077" stop-color="#00f8ec"/><stop offset="0.115" stop-color="#00f8eb"/><stop offset="0.154" stop-color="#00f8ea"/><stop offset="0.192" stop-color="#00f8e8"/><stop offset="0.231" stop-color="#00f8e5"/><stop offset="0.269" stop-color="#00f8e2"/><stop offset="0.308" stop-color="#00f8de"/><stop offset="0.346" stop-color="#00f8d8"/><stop offset="0.385" stop-color="#6af8d4"/><stop offset="0.423" stop-color="#9ef8d2"/><stop offset="0.462" stop-color="#c6f8d0"/><stop offset="0.500" stop-color="#e8f8cd"/><stop offset="0.538" stop-color="#f8e9bd"/><stop offset="0.577" stop-color="#f8d0a6"/><stop offset="0.615" stop-color="#f8bc92"/><stop offset="0.654" stop-color="#f8aa80"/><stop offset="0.692" stop-color="#f89b71"/><stop offset="0.731" stop-color="#f88e62"/><stop offset="0.769" stop-color="#f88153"/><stop offset="0.808" stop-color="#f87644"/><stop offset="0.846" stop-color="#f86b34"/><stop offset="0.885" stop-color="#f8601e"/><stop offset="0.923" stop-color="#f85800"/><stop offset="0.962" stop-color="#f85400"/><stop offset="1.000" stop-color="#f85100"/></linearGradient><linearGradient id="g59" x1="0" x2="1" y1="0" y2="0"><stop offset="0.000" stop-color="#00f8f0"/><stop offset="0.038" stop-color="#00f8ef"/><stop offset="0.077" stop-color="#00f8ee"/><stop offset="0.115" stop-color="#00f8ed"/><stop offset="0.154" stop-color="#00f8ec"/><stop offset="0.192" stop-color="#00f8ea"/><stop offset="0.231" stop-color="#00f8e8"/><stop offset="0.269" stop-color="#00f8e6"/><stop offset="0.308" stop-color="#00f8e2"/><stop offset="0.346" stop-color="#04f8dc"/><stop offset="0.385" stop-color="#79f8da"/><stop offset="0.423" stop-color="#aaf8d8"/><stop offset="0.462" stop-color="#d1f8d6"/><stop offset="0.500" stop-color="#f4f8d4"/><stop offset="0.538" stop-color="#f8dfbb"/><stop offset="0.577" stop-color="#f8c7a4"/><stop offset="0.615" stop-color="#f8b391"/><stop offset="0.654" stop-color="#f8a280"/><stop offset="0.692" stop-color="#f89470"/><stop offset="0.731" stop-color="#f88662"/><stop offset="0.769" stop-color="#f87a54"/><stop offset="0.808" stop-color="#f86f45"/><stop offset="0.846" stop-color="#f86335"/><stop offset="0.885" stop-color="#f85821"/><stop offset="0.923" stop-color="#f84f00"/><stop offset="0.962" stop-color="#f84c00"/><stop offset="1.000" stop-color="#f84900"/></linearGradient><linearGradient id="g60" x1="0" x2="1" y1="0" y2="0"><stop offset="0.000" stop-color="#00f8f1"/><stop offset="0.037" stop-color="#00f8f1"/><stop offset="0.074" stop-color="#00f8f0"/><stop offset="0.111" stop-color="#00f8ef"/><stop offset="0.148" stop-color="#00f8ee"/><stop offset="0.185" stop-color="#00f8ed"/><stop offset="0.222" stop-color="#00f8eb"/><stop offset="0.259" stop-color="#00f8e9"/><stop offset="0.296" stop-color="#00f8e6"/><stop offset="0.333" stop-color="#00f8e2"/><stop offset="0.370" stop-color="#77f8e0"/><stop offset="0.407" stop-color="#a8f8df"/><stop offset="0.444" stop-color="#cff8dd"/><stop offset="0.481" stop-color="#f2f8db"/><stop offset="0.519" stop-color="#f8e0c4"/><stop offset="0.556" stop-color="#f8c8ad"/><stop offset="0.593" stop-color="#f8b499"/><stop offset="0.630" stop-color="#f8a489"/><stop offset="0.667" stop-color="#f89579"/><stop offset="0.704" stop-color="#f8876b"/><stop offset="0.741" stop-color="#f87b5e"/><stop offset="0.778" stop-color="#f87050"/><stop offset="0.815" stop-color="#f86443"/><stop offset="0.852" stop-color="#f85a33"/><stop offset="0.889" stop-color="#f84f20"/><stop offset="0.926" stop-color="#f84500"/><stop offset="0.963" stop-color="#f84200"/><stop offset="1.000" stop-color="#f84000"/></linearGradient><linearGradient id="g61" x1="0" x2="1" y1="0" y2="0"><stop offset="0.000" stop-color="#00f8f3"/><stop offset="0.037" stop-color="#00f8f3"/><stop offset="0.074" stop-color="#00f8f2"/><stop offset="0.111" stop-color="#00f8f2"/><stop offset="0.148" stop-color="#00f8f1"/><stop offset="0.185" stop-color="#00f8f0"/><stop offset="0.222" stop-color="#00f8ef"/><stop offset="0.259" stop-color="#00f8ed"/><stop offset="0.296" stop-color="#00f8ea"/><stop offset="0.333" stop-color="#34f8e7"/><stop offset="0.370" stop-color="#85f8e6"/><stop offset="0.407" stop-color="#b4f8e5"/><stop offset="0.444" stop-color="#dbf8e4"/><stop offset="0.481" stop-color="#f8f2dd"/><stop offset="0.519" stop-color="#f8d6c1"/><stop offset="0.556" stop-color="#f8bfab"/><stop offset="0.593" stop-color="#f8ac98"/><stop offset="0.630" stop-color="#f89c88"/><stop offset="0.667" stop-color="#f88d79"/><stop offset="0.704" stop-color="#f8806b"/><stop offset="0.741" stop-color="#f8745e"/><stop offset="0.778" stop-color="#f86851"/><stop offset="0.815" stop-color="#f85d43"/><stop offset="0.852" stop-color="#f85135"/><stop offset="0.889" stop-color="#f84622"/><stop offset="0.926" stop-color="#f83900"/><stop offset="0.963" stop-color="#f83700"/><stop offset="1.000" stop-color="#f83500"/></linearGradient><linearGradient id="g62" x1="0" x2="1" y1="0" y2="0"><stop offset="0.000" stop-color="#00f8f5"/><stop offset="0.037" stop-color="#00f8f5"/><stop offset="0.074" stop-color="#00f8f4"/><stop offset="0.111" stop-color="#00f8f4"/><stop offset="0.148" stop-color="#00f8f3"/><stop offset="0.185" stop-color="#00f8f3"/><stop offset="0.222" stop-color="#00f8f2"/><stop offset="0.259" stop-color="#00f8f1"/><stop offset="0.296" stop-color="#00f8ef"/><stop offset="0.333" stop-color="#4df8ed"/><stop offset="0.370" stop-color="#92f8ed"/><stop offset="0.407" stop-color="#c0f8ec"/><stop offset="0.444" stop-color="#e7f8eb"/><stop offset="0.481" stop-color="#f8e7d9"/><stop offset="0.519" stop-color="#f8ccbf"/><stop offset="0.556" stop-color="#f8b6a9"/><stop offset="0.593" stop-color="#f8a497"/><stop offset="0.630" stop-color="#f89487"/><stop offset="0.667" stop-color="#f88579"/><stop offset="0.704" stop-color="#f8786b"/><stop offset="0.741" stop-color="#f86c5e"/><stop offset="0.778" stop-color="#f86051"/><stop offset="0.815" stop-color="#f85444"/><stop offset="0.852" stop-color="#f84836"/><stop offset="0.889" stop-color="#f83c24"/><stop offset="0.926" stop-color="#f82d04"/><stop offset="0.963" stop-color="#f82a00"/><stop offset="1.000" stop-color="#f82800"/></linearGradient><linearGradient id="g63" x1="0" x2="1" y1="0" y2="0"><stop offset="0.000" stop-color="#00f8f7"/><stop offset="0.037" stop-color="#00f8f7"/><stop offset="0.074" stop-color="#00f8f7"/><stop offset="0.111" stop-color="#00f8f6"/><stop offset="0.148" stop-color="#00f8f6"/><stop offset="0.185" stop-color="#00f8f6"/><stop offset="0.222" stop-color="#00f8f6"/><stop offset="0.259" stop-color="#00f8f5"/><stop offset="0.296" stop-color="#00f8f4"/><stop offset="0.333" stop-color="#69f8f4"/><stop offset="0.370" stop-color="#a4f8f3"/><stop offset="0.407" stop-color="#d0f8f3"/><stop offset="0.444" stop-color="#f7f8f3"/><stop offset="0.481" stop-color="#f8d9d4"/><stop offset="0.519" stop-color="#f8c0bb"/><stop offset="0.556" stop-color="#f8aca7"/><stop offset="0.593" stop-color="#f89a95"/><stop offset="0.630" stop-color="#f88b86"/><stop offset="0.667" stop-color="#f87d78"/><stop offset="0.704" stop-color="#f8706b"/><stop offset="0.741" stop-color="#f8635e"/><stop offset="0.778" stop-color="#f85751"/><stop offset="0.815" stop-color="#f84b44"/><stop offset="0.852" stop-color="#f83e36"/><stop offset="0.889" stop-color="#f82f26"/><stop offset="0.926" stop-color="#f81c09"/><stop offset="0.963" stop-color="#f81700"/><stop offset="1.000" stop-color="#f81500"/></linearGradient><linearGradient id="g64" x1="0" x2="1" y1="0" y2="0"><stop offset="0.000" stop-color="#00f8f8"/><stop offset="0.036" stop-color="#00f8f8"/><stop offset="0.071" stop-color="#00f8f8"/><stop offset="0.107" stop-color="#00f8f8"/><stop offset="0.143" stop-color="#00f8f8"/><stop offset="0.179" stop-color="#00f8f8"/><stop offset="0.214" stop-color="#00f8f8"/><stop offset="0.250" stop-color="#00f7f8"/><stop offset="0.286" stop-color="#00f7f8"/><stop offset="0.321" stop-color="#60f7f8"/><stop offset="0.357" stop-color="#9ef7f8"/><stop offset="0.393" stop-color="#caf6f8"/><stop offset="0.429" stop-color="#f1f6f8"/><stop offset="0.464" stop-color="#f8dcde"/><stop offset="0.500" stop-color="#f8c2c4"/><stop offset="0.536" stop-color="#f8adb0"/><stop offset="0.571" stop-color="#f89c9e"/><stop offset="0.607" stop-color="#f88c8e"/><stop offset="0.643" stop-color="#f87e80"/><stop offset="0.679" stop-color="#f87173"/><stop offset="0.714" stop-color="#f86467"/><stop offset="0.750" stop-color="#f8585b"/><stop offset="0.786" stop-color="#f84c4f"/><stop offset="0.821" stop-color="#f83f43"/><stop offset="0.857" stop-color="#f83035"/><stop offset="0.893" stop-color="#f81d25"/><stop offset="0.929" stop-color="#f80012"/><stop offset="0.964" stop-color="#f80011"/><stop offset="1.000" stop-color="#f80010"/></linearGradient><linearGradient id="g65" x1="0" x2="1" y1="0" y2="0"><stop offset="0.000" stop-color="#00f6f8"/><stop offset="0.036" stop-color="#00f6f8"/><stop offset="0.071" stop-color="#00f6f8"/><stop offset="0.107" stop-color="#00f5f8"/><stop offset="0.143" stop-color="#00f5f8"/><stop offset="0.179" stop-color="#00f4f8"/><stop offset="0.214" stop-color="#00f4f8"/><stop offset="0.250" stop-color="#00f2f8"/><stop offset="0.286" stop-color="#00f1f8"/><stop offset="0.321" stop-color="#75f0f8"/><stop offset="0.357" stop-color="#aaf0f8"/><stop offset="0.393" stop-color="#d4eff8"/><stop offset="0.429" stop-color="#f8edf7"/><stop offset="0.464" stop-color="#f8cfd8"/><stop offset="0.500" stop-color="#f8b7c0"/><stop offset="0.536" stop-color="#f8a3ad"/><stop offset="0.571" stop-color="#f8929c"/><stop offset="0.607" stop-color="#f8838d"/><stop offset="0.643" stop-color="#f8757f"/><stop offset="0.679" stop-color="#f86873"/><stop offset="0.714" stop-color="#f85b67"/><stop offset="0.750" stop-color="#f84e5b"/><stop offset="0.786" stop-color="#f8414f"/><stop offset="0.821" stop-color="#f83243"/><stop offset="0.857" stop-color="#f82036"/><stop offset="0.893" stop-color="#f80028"/><stop offset="0.929" stop-color="#f80027"/><stop offset="0.964" stop-color="#f80025"/><stop offset="1.000" stop-color="#f80024"/></linearGradient><linearGradient id="g66" x1="0" x2="1" y1="0" y2="0"><stop offset="0.000" stop-color="#00f4f8"/><stop offset="0.036" stop-color="#00f4f8"/><stop offset="0.071" stop-color="#00f3f8"/><stop offset="0.107" stop-color="#00f3f8"/><stop offset="0.143" stop-color="#00f2f8"/><stop offset="0.179" stop-color="#00f1f8"/><stop offset="0.214" stop-color="#00eff8"/><stop offset="0.250" stop-color="#00edf8"/><stop offset="0.286" stop-color="#1ceaf8"/><stop offset="0.321" stop-color="#80eaf8"/><stop offset="0.357" stop-color="#b1e9f8"/><stop offset="0.393" stop-color="#dae7f8"/><stop offset="0.429" stop-color="#f8e1f3"/><stop offset="0.464" stop-color="#f8c4d6"/><stop offset="0.500" stop-color="#f8aebe"/><stop offset="0.536" stop-color="#f89aab"/><stop offset="0.571" stop-color="#f88a9b"/><stop offset="0.607" stop-color="#f87b8c"/><stop offset="0.643" stop-color="#f86d7f"/><stop offset="0.679" stop-color="#f85f72"/><stop offset="0.714" stop-color="#f85267"/><stop offset="0.750" stop-color="#f8445b"/><stop offset="0.786" stop-color="#f83650"/><stop offset="0.821" stop-color="#f82344"/><stop offset="0.857" stop-color="#f80037"/><stop offset="0.893" stop-color="#f80035"/><stop offset="0.929" stop-color="#f80033"/><stop offset="0.964" stop-color="#f80031"/><stop offset="1.000" stop-color="#f80030"/></linearGradient><linearGradient id="g67" x1="0" x2="1" y1="0" y2="0"><stop offset="0.000" stop-color="#00f2f8"/><stop offset="0.034" stop-color="#00f2f8"/><stop offset="0.069" stop-color="#00f1f8"/><stop offset="0.103" stop-color="#00f0f8"/><stop offset="0.138" stop-color="#00eff8"/><stop offset="0.172" stop-color="#00edf8"/><stop offset="0.207" stop-color="#00ebf8"/><stop offset="0.241" stop-color="#00e9f8"/><stop offset="0.276" stop-color="#00e5f8"/><stop offset="0.310" stop-color="#77e3f8"/><stop offset="0.345" stop-color="#a9e2f8"/><stop offset="0.379" stop-color="#d0e0f8"/><stop offset="0.414" stop-color="#f4dff8"/><stop offset="0.448" stop-color="#f8c6df"/><stop offset="0.483" stop-color="#f8aec7"/><stop offset="0.517" stop-color="#f89bb3"/><stop offset="0.552" stop-color="#f88aa3"/><stop offset="0.586" stop-color="#f87b94"/><stop offset="0.621" stop-color="#f86d86"/><stop offset="0.655" stop-color="#f85f7a"/><stop offset="0.690" stop-color="#f8526f"/><stop offset="0.724" stop-color="#f84464"/><stop offset="0.759" stop-color="#f83559"/><stop offset="0.793" stop-color="#f8234e"/><stop offset="0.828" stop-color="#f80043"/><stop offset="0.862" stop-color="#f80040"/><stop offset="0.897" stop-color="#f8003e"/><stop offset="0.931" stop-color="#f8003c"/><stop offset="0.966" stop-color="#f8003a"/><stop offset="1.000" stop-color="#f80038"/></linearGradient><linearGradient id="g68" x1="0" x2="1" y1="0" y2="0"><stop offset="0.000" stop-color="#00f0f8"/><stop offset="0.034" stop-color="#00eff8"/><stop offset="0.069" stop-color="#00eef8"/><stop offset="0.103" stop-color="#00edf8"/><stop offset="0.138" stop-color="#00ebf8"/><stop offset="0.172" stop-color="#00e9f8"/><stop offset="0.207" stop-color="#00e7f8"/><stop offset="0.241" stop-color="#00e3f8"/><stop offset="0.276" stop-color="#3edef8"/><stop offset="0.310" stop-color="#86ddf8"/><stop offset="0.345" stop-color="#b4dbf8"/><stop offset="0.379" stop-color="#d9d9f8"/><stop offset="0.414" stop-color="#f8d4f6"/><stop offset="0.448" stop-color="#f8b9da"/><stop offset="0.483" stop-color="#f8a3c3"/><stop offset="0.517" stop-color="#f891b1"/><stop offset="0.552" stop-color="#f880a0"/><stop offset="0.586" stop-color="#f87192"/><stop offset="0.621" stop-color="#f86385"/><stop offset="0.655" stop-color="#f85579"/><stop offset="0.690" stop-color="#f8476e"/><stop offset="0.724" stop-color="#f83863"/><stop offset="0.759" stop-color="#f82558"/><stop offset="0.793" stop-color="#f8034e"/><stop offset="0.828" stop-color="#f8004a"/><stop offset="0.862" stop-color="#f80048"/><stop offset="0.897" stop-color="#f80045"/><stop offset="0.931" stop-color="#f80043"/><stop offset="0.966" stop-color="#f80041"/><stop offset="1.000" stop-color="#f8003f"/></linearGradient><linearGradient id="g69" x1="0" x2="1" y1="0" y2="0"><stop offset="0.000" stop-color="#00eef8"/><stop offset="0.034" stop-color="#00edf8"/><stop offset="0.069" stop-color="#00ecf8"/><stop offset="0.103" stop-color="#00eaf8"/><stop offset="0.138" stop-color="#00e8f8"/><stop offset="0.172" stop-color="#00e5f8"/><stop offset="0.207" stop-color="#00e2f8"/><stop offset="0.241" stop-color="#00ddf8"/><stop offset="0.276" stop-color="#50d8f8"/><stop offset="0.310" stop-color="#8fd6f8"/><stop offset="0.345" stop-color="#b9d4f8"/><stop offset="0.379" stop-color="#ded1f8"/><stop offset="0.414" stop-color="#f8c9f2"/><stop offset="0.448" stop-color="#f8afd7"/><stop offset="0.483" stop-color="#f89ac1"/><stop offset="0.517" stop-color="#f888af"/><stop offset="0.552" stop-color="#f8789f"/><stop offset="0.586" stop-color="#f86992"/><stop offset="0.621" stop-color="#f85a85"/><stop offset="0.655" stop-color="#f84b79"/><stop offset="0.690" stop-color="#f83c6e"/><stop offset="0.724" stop-color="#f82a63"/><stop offset="0.759" stop-color="#f80c59"/><stop offset="0.793" stop-color="#f80054"/><stop offset="0.828" stop-color="#f80051"/><stop offset="0.862" stop-color="#f8004e"/><stop offset="0.897" stop-color="#f8004c"/><stop offset="0.931" stop-color="#f80049"/><stop offset="0.966" stop-color="#f80047"/><stop offset="1.000" stop-color="#f80045"/></linearGradient><linearGradient id="g70" x1="0" x2="1" y1="0" y2="0"><stop offset="0.000" stop-color="#00ecf8"/><stop offset="0.034" stop-color="#00eaf8"/><stop offset="0.069" stop-color="#00e9f8"/><stop offset="0.103" stop-color="#00e7f8"/><stop offset="0.138" stop-color="#00e4f8"/><stop offset="0.172" stop-color="#00e1f8"/><stop offset="0.207" stop-color="#00dcf8"/><stop offset="0.241" stop-color="#00d5f8"/><stop offset="0.276" stop-color="#66d1f8"/><stop offset="0.310" stop-color="#9bcff8"/><stop offset="0.345" stop-color="#c3ccf8"/><stop offset="0.379" stop-color="#e5c9f8"/><stop offset="0.414" stop-color="#f8bcec"/><stop offset="0.448" stop-color="#f8a4d3"/><stop offset="0.483" stop-color="#f88fbe"/><stop offset="0.517" stop-color="#f87ead"/><stop offset="0.552" stop-color="#f86e9e"/><stop offset="0.586" stop-color="#f85e90"/><stop offset="0.621" stop-color="#f84f84"/><stop offset="0.655" stop-color="#f83f78"/><stop offset="0.690" stop-color="#f82d6d"/><stop offset="0.724" stop-color="#f81263"/><stop offset="0.759" stop-color="#f8005d"/><stop offset="0.793" stop-color="#f80059"/><stop offset="0.828" stop-color="#f80056"/><stop offset="0.862" stop-color="#f80053"/><stop offset="0.897" stop-color="#f80051"/><stop offset="0.931" stop-color="#f8004e"/><stop offset="0.966" stop-color="#f8004c"/><stop offset="1.000" stop-color="#f8004a"/></linearGradient><linearGradient id="g71" x1="0" x2="1" y1="0" y2="0"><stop offset="0.000" stop-color="#00e9f8"/><stop offset="0.033" stop-color="#00e8f8"/><stop offset="0.067" stop-color="#00e6f8"/><stop offset="0.100" stop-color="#00e4f8"/><stop offset="0.133" stop-color="#00e1f8"/><stop offset="0.167" stop-color="#00ddf8"/><stop offset="0.200" stop-color="#00d8f8"/><stop offset="0.233" stop-color="#00d1f8"/><stop offset="0.267" stop-color="#5fccf8"/><stop offset="0.300" stop-color="#94c9f8"/><stop offset="0.333" stop-color="#bbc6f8"/><stop offset="0.367" stop-color="#ddc3f8"/><stop offset="0.400" stop-color="#f8bcf5"/><stop offset="0.433" stop-color="#f8a3db"/><stop offset="0.467" stop-color="#f88fc6"/><stop offset="0.500" stop-color="#f87db4"/><stop offset="0.533" stop-color="#f86da5"/><stop offset="0.567" stop-color="#f85d97"/><stop offset="0.600" stop-color="#f84e8b"/><stop offset="0.633" stop-color="#f83e7f"/><stop offset="0.667" stop-color="#f82b74"/><stop offset="0.700" stop-color="#f80c6a"/><stop offset="0.733" stop-color="#f80065"/><stop offset="0.767" stop-color="#f80061"/><stop offset="0.800" stop-color="#f8005e"/><stop offset="0.833" stop-color="#f8005b"/><stop offset="0.867" stop-color="#f80058"/><stop offset="0.900" stop-color="#f80055"/><stop offset="0.933" stop-color="#f80053"/><stop offset="0.967" stop-color="#f80051"/><stop offset="1.000" stop-color="#f8004f"/></linearGradient><linearGradient id="g72" x1="0" x2="1" y1="0" y2="0"><stop offset="0.000" stop-color="#00e7f8"/><stop offset="0.033" stop-color="#00e5f8"/><stop offset="0.067" stop-color="#00e3f8"/><stop offset="0.100" stop-color="#00e0f8"/><stop offset="0.133" stop-color="#00ddf8"/><stop offset="0.167" stop-color="#00d8f8"/><stop offset="0.200" stop-color="#00d2f8"/><stop offset="0.233" stop-color="#00c9f8"/><stop offset="0.267" stop-color="#6ec5f8"/><stop offset="0.300" stop-color="#9dc2f8"/><stop offset="0.333" stop-color="#c2bff8"/><stop offset="0.367" stop-color="#e3bbf8"/><stop offset="0.400" stop-color="#f8b0f1"/><stop offset="0.433" stop-color="#f899d8"/><stop offset="0.467" stop-color="#f885c4"/><stop offset="0.500" stop-color="#f874b3"/><stop offset="0.533" stop-color="#f863a4"/><stop offset="0.567" stop-color="#f85497"/><stop offset="0.600" stop-color="#f8438b"/><stop offset="0.633" stop-color="#f8317f"/><stop offset="0.667" stop-color="#f81775"/><stop offset="0.700" stop-color="#f8006e"/><stop offset="0.733" stop-color="#f80069"/><stop offset="0.767" stop-color="#f80066"/><stop offset="0.800" stop-color="#f80062"/><stop offset="0.833" stop-color="#f8005f"/><stop offset="0.867" stop-color="#f8005c"/><stop offset="0.900" stop-color="#f8005a"/><stop offset="0.933" stop-color="#f80057"/><stop offset="0.967" stop-color="#f80055"/><stop offset="1.000" stop-color="#f80053"/></linearGradient><linearGradient id="g73" x1="0" x2="1" y1="0" y2="0"><stop offset="0.000" stop-color="#00e5f8"/><stop offset="0.034" stop-color="#00e3f8"/><stop offset="0.069" stop-color="#00e0f8"/><stop offset="0.103" stop-color="#00ddf8"/><stop offset="0.138" stop-color="#00d9f8"/><stop offset="0.172" stop-color="#00d4f8"/><stop offset="0.207" stop-color="#00ccf8"/><stop offset="0.241" stop-color="#23c2f8"/><stop offset="0.276" stop-color="#77bff8"/><stop offset="0.310" stop-color="#a3bbf8"/><stop offset="0.345" stop-color="#c7b7f8"/><stop offset="0.379" stop-color="#e6b3f8"/><stop offset="0.414" stop-color="#f8a5ed"/><stop offset="0.448" stop-color="#f88fd6"/><stop offset="0.483" stop-color="#f87cc2"/><stop offset="0.517" stop-color="#f86ab1"/><stop offset="0.552" stop-color="#f859a3"/><stop offset="0.586" stop-color="#f84896"/><stop offset="0.621" stop-color="#f8368a"/><stop offset="0.655" stop-color="#f81d7f"/><stop offset="0.690" stop-color="#f80077"/><stop offset="0.724" stop-color="#f80072"/><stop offset="0.759" stop-color="#f8006d"/><stop offset="0.793" stop-color="#f80069"/><stop offset="0.828" stop-color="#f80066"/><stop offset="0.862" stop-color="#f80063"/><stop offset="0.897" stop-color="#f80060"/><stop offset="0.931" stop-color="#f8005d"/><stop offset="0.966" stop-color="#f8005b"/><stop offset="1.000" stop-color="#f80059"/></linearGradient><linearGradient id="g74" x1="0" x2="1" y1="0" y2="0"><stop offset="0.000" stop-color="#00e2f8"/><stop offset="0.036" stop-color="#00e0f8"/><stop offset="0.071" stop-color="#00ddf8"/><stop offset="0.107" stop-color="#00d9f8"/><stop offset="0.143" stop-color="#00d5f8"/><stop offset="0.179" stop-color="#00cef8"/><stop offset="0.214" stop-color="#00c5f8"/><stop offset="0.250" stop-color="#43bcf8"/><stop offset="0.286" stop-color="#82b8f8"/><stop offset="0.321" stop-color="#abb4f8"/><stop offset="0.357" stop-color="#cdb0f8"/><stop offset="0.393" stop-color="#ebaaf8"/><stop offset="0.429" stop-color="#f89aea"/><stop offset="0.464" stop-color="#f884d3"/><stop offset="0.500" stop-color="#f871c0"/><stop offset="0.536" stop-color="#f860b0"/><stop offset="0.571" stop-color="#f84ea2"/><stop offset="0.607" stop-color="#f83c95"/><stop offset="0.643" stop-color="#f8258a"/><stop offset="0.679" stop-color="#f80080"/><stop offset="0.714" stop-color="#f8007a"/><stop offset="0.750" stop-color="#f80075"/><stop offset="0.786" stop-color="#f80071"/><stop offset="0.821" stop-color="#f8006d"/><stop offset="0.857" stop-color="#f8006a"/><stop offset="0.893" stop-color="#f80066"/><stop offset="0.929" stop-color="#f80064"/><stop offset="0.964" stop-color="#f80061"/><stop offset="1.000" stop-color="#f8005e"/></linearGradient><linearGradient id="g75" x1="0" x2="1" y1="0" y2="0"><stop offset="0.000" stop-color="#00e0f8"/><stop offset="0.037" stop-color="#00ddf8"/><stop offset="0.074" stop-color="#00daf8"/><stop offset="0.111" stop-color="#00d6f8"/><stop offset="0.148" stop-color="#00d0f8"/><stop offset="0.185" stop-color="#00c9f8"/><stop offset="0.222" stop-color="#00bef8"/><stop offset="0.259" stop-color="#52b6f8"/><stop offset="0.296" stop-color="#89b1f8"/><stop offset="0.333" stop-color="#b0adf8"/><stop offset="0.370" stop-color="#d1a8f8"/><stop offset="0.407" stop-color="#efa2f8"/><stop offset="0.444" stop-color="#f88fe7"/><stop offset="0.481" stop-color="#f87ad1"/><stop offset="0.519" stop-color="#f867bf"/><stop offset="0.556" stop-color="#f854af"/><stop offset="0.593" stop-color="#f841a1"/><stop offset="0.630" stop-color="#f82b95"/><stop offset="0.667" stop-color="#f80089"/><stop offset="0.704" stop-color="#f80083"/><stop offset="0.741" stop-color="#f8007d"/><stop offset="0.778" stop-color="#f80078"/><stop offset="0.815" stop-color="#f80074"/><stop offset="0.852" stop-color="#f80070"/><stop offset="0.889" stop-color="#f8006d"/><stop offset="0.926" stop-color="#f80069"/><stop offset="0.963" stop-color="#f80067"/><stop offset="1.000" stop-color="#f80064"/></linearGradient><linearGradient id="g76" x1="0" x2="1" y1="0" y2="0"><stop offset="0.000" stop-color="#00ddf8"/><stop offset="0.038" stop-color="#00daf8"/><stop offset="0.077" stop-color="#00d6f8"/><stop offset="0.115" stop-color="#00d1f8"/><stop offset="0.154" stop-color="#00cbf8"/><stop offset="0.192" stop-color="#00c2f8"/><stop offset="0.231" stop-color="#00b5f8"/><stop offset="0.269" stop-color="#65aff8"/><stop offset="0.308" stop-color="#95aaf8"/><stop offset="0.346" stop-color="#b9a5f8"/><stop offset="0.385" stop-color="#d99ff8"/><stop offset="0.423" stop-color="#f698f8"/><stop offset="0.462" stop-color="#f882e2"/><stop offset="0.500" stop-color="#f86dcd"/><stop offset="0.538" stop-color="#f859bb"/><stop offset="0.577" stop-color="#f846ac"/><stop offset="0.615" stop-color="#f82f9f"/><stop offset="0.654" stop-color="#f80893"/><stop offset="0.692" stop-color="#f8008b"/><stop offset="0.731" stop-color="#f80085"/><stop offset="0.769" stop-color="#f80080"/><stop offset="0.808" stop-color="#f8007b"/><stop offset="0.846" stop-color="#f80077"/><stop offset="0.885" stop-color="#f80073"/><stop offset="0.923" stop-color="#f8006f"/><stop offset="0.962" stop-color="#f8006c"/><stop offset="1.000" stop-color="#f80069"/></linearGradient><linearGradient id="g77" x1="0" x2="1" y1="0" y2="0"><stop offset="0.000" stop-color="#00dbf8"/><stop offset="0.038" stop-color="#00d7f8"/><stop offset="0.077" stop-color="#00d3f8"/><stop offset="0.115" stop-color="#00cef8"/><stop offset="0.154" stop-color="#00c8f8"/><stop offset="0.192" stop-color="#00bff8"/><stop offset="0.231" stop-color="#00b1f8"/><stop offset="0.269" stop-color="#5caaf8"/><stop offset="0.308" stop-color="#8da5f8"/><stop offset="0.346" stop-color="#b1a0f8"/><stop offset="0.385" stop-color="#d099f8"/><stop offset="0.423" stop-color="#ec92f8"/><stop offset="0.462" stop-color="#f882eb"/><stop offset="0.500" stop-color="#f86dd6"/><stop offset="0.538" stop-color="#f859c4"/><stop offset="0.577" stop-color="#f845b4"/><stop offset="0.615" stop-color="#f82ea7"/><stop offset="0.654" stop-color="#f8039b"/><stop offset="0.692" stop-color="#f80093"/><stop offset="0.731" stop-color="#f8008c"/><stop offset="0.769" stop-color="#f80087"/><stop offset="0.808" stop-color="#f80082"/><stop offset="0.846" stop-color="#f8007d"/><stop offset="0.885" stop-color="#f80079"/><stop offset="0.923" stop-color="#f80075"/><stop offset="0.962" stop-color="#f80072"/><stop offset="1.000" stop-color="#f8006f"/></linearGradient><linearGradient id="g78" x1="0" x2="1" y1="0" y2="0"><stop offset="0.000" stop-color="#00d8f8"/><stop offset="0.040" stop-color="#00d4f8"/><stop offset="0.080" stop-color="#00cff8"/><stop offset="0.120" stop-color="#00caf8"/><stop offset="0.160" stop-color="#00c2f8"/><stop offset="0.200" stop-color="#00b7f8"/><stop offset="0.240" stop-color="#0ea7f8"/><stop offset="0.280" stop-color="#6da3f8"/><stop offset="0.320" stop-color="#979df8"/><stop offset="0.360" stop-color="#b997f8"/><stop offset="0.400" stop-color="#d790f8"/><stop offset="0.440" stop-color="#f288f8"/><stop offset="0.480" stop-color="#f874e6"/><stop offset="0.520" stop-color="#f85fd2"/><stop offset="0.560" stop-color="#f84ac1"/><stop offset="0.600" stop-color="#f833b2"/><stop offset="0.640" stop-color="#f80da5"/><stop offset="0.680" stop-color="#f8009c"/><stop offset="0.720" stop-color="#f80094"/><stop offset="0.760" stop-color="#f8008e"/><stop offset="0.800" stop-color="#f80088"/><stop offset="0.840" stop-color="#f80083"/><stop offset="0.880" stop-color="#f8007f"/><stop offset="0.920" stop-color="#f8007b"/><stop offset="0.960" stop-color="#f80077"/><stop offset="1.000" stop-color="#f80074"/></linearGradient><linearGradient id="g79" x1="0" x2="1" y1="0" y2="0"><stop offset="0.000" stop-color="#00d5f8"/><stop offset="0.042" stop-color="#00d1f8"/><stop offset="0.083" stop-color="#00ccf8"/><stop offset="0.125" stop-color="#00c6f8"/><stop offset="0.167" stop-color="#00bdf8"/><stop offset="0.208" stop-color="#00b1f8"/><stop offset="0.250" stop-color="#2fa1f8"/><stop offset="0.292" stop-color="#759cf8"/><stop offset="0.333" stop-color="#9d96f8"/><stop offset="0.375" stop-color="#be8ff8"/><stop offset="0.417" stop-color="#db87f8"/><stop offset="0.458" stop-color="#f67ef8"/><stop offset="0.500" stop-color="#f867e3"/><stop offset="0.542" stop-color="#f851d0"/><stop offset="0.583" stop-color="#f839bf"/><stop offset="0.625" stop-color="#f818b0"/><stop offset="0.667" stop-color="#f800a5"/><stop offset="0.708" stop-color="#f8009d"/><stop offset="0.750" stop-color="#f80096"/><stop offset="0.792" stop-color="#f80090"/><stop offset="0.833" stop-color="#f8008a"/><stop offset="0.875" stop-color="#f80085"/><stop offset="0.917" stop-color="#f80081"/><stop offset="0.958" stop-color="#f8007d"/><stop offset="1.000" stop-color="#f80079"/></linearGradient><linearGradient id="g80" x1="0" x2="1" y1="0" y2="0"><stop offset="0.000" stop-color="#00d2f8"/><stop offset="0.043" stop-color="#00cdf8"/><stop offset="0.087" stop-color="#00c8f8"/><stop offset="0.130" stop-color="#00c0f8"/><stop offset="0.174" stop-color="#00b6f8"/><stop offset="0.217" stop-color="#00a8f8"/><stop offset="0.261" stop-color="#489af8"/><stop offset="0.304" stop-color="#7f94f8"/><stop offset="0.348" stop-color="#a58ef8"/><stop offset="0.391" stop-color="#c486f8"/><stop offset="0.435" stop-color="#e07df8"/><stop offset="0.478" stop-color="#f871f7"/><stop offset="0.522" stop-color="#f859e0"/><stop offset="0.565" stop-color="#f841cd"/><stop offset="0.609" stop-color="#f823bd"/><stop offset="0.652" stop-color="#f800b0"/><stop offset="0.696" stop-color="#f800a7"/><stop offset="0.739" stop-color="#f8009f"/><stop offset="0.783" stop-color="#f80098"/><stop offset="0.826" stop-color="#f80092"/><stop offset="0.870" stop-color="#f8008c"/><stop offset="0.913" stop-color="#f80087"/><stop offset="0.957" stop-color="#f80083"/><stop offset="1.000" stop-color="#f8007f"/></linearGradient><linearGradient id="g81" x1="0" x2="1" y1="0" y2="0"><stop offset="0.000" stop-color="#00cff8"/><stop offset="0.045" stop-color="#00caf8"/><stop offset="0.091" stop-color="#00c4f8"/><stop offset="0.136" stop-color="#00bcf8"/><stop offset="0.182" stop-color="#00b1f8"/><stop offset="0.227" stop-color="#00a0f8"/><stop offset="0.273" stop-color="#5594f8"/><stop offset="0.318" stop-color="#868df8"/><stop offset="0.364" stop-color="#aa86f8"/><stop offset="0.409" stop-color="#c97df8"/><stop offset="0.455" stop-color="#e472f8"/><stop offset="0.500" stop-color="#f863f3"/><stop offset="0.545" stop-color="#f849dd"/><stop offset="0.591" stop-color="#f82ccb"/><stop offset="0.636" stop-color="#f800bc"/><stop offset="0.682" stop-color="#f800b1"/><stop offset="0.727" stop-color="#f800a7"/><stop offset="0.773" stop-color="#f800a0"/><stop offset="0.818" stop-color="#f80099"/><stop offset="0.864" stop-color="#f80093"/><stop offset="0.909" stop-color="#f8008d"/><stop offset="0.955" stop-color="#f80089"/><stop offset="1.000" stop-color="#f80084"/></linearGradient><linearGradient id="g82" x1="0" x2="1" y1="0" y2="0"><stop offset="0.000" stop-color="#00ccf8"/><stop offset="0.045" stop-color="#00c7f8"/><stop offset="0.091" stop-color="#00c0f8"/><stop offset="0.136" stop-color="#00b7f8"/><stop offset="0.182" stop-color="#00abf8"/><stop offset="0.227" stop-color="#0099f8"/><stop offset="0.273" stop-color="#568ef8"/><stop offset="0.318" stop-color="#8587f8"/><stop offset="0.364" stop-color="#a77ff8"/><stop offset="0.409" stop-color="#c476f8"/><stop offset="0.455" stop-color="#df6bf8"/><stop offset="0.500" stop-color="#f75df8"/><stop offset="0.545" stop-color="#f843e4"/><stop offset="0.591" stop-color="#f823d1"/><stop offset="0.636" stop-color="#f800c3"/><stop offset="0.682" stop-color="#f800b7"/><stop offset="0.727" stop-color="#f800ae"/><stop offset="0.773" stop-color="#f800a6"/><stop offset="0.818" stop-color="#f8009f"/><stop offset="0.864" stop-color="#f80099"/><stop offset="0.909" stop-color="#f80093"/><stop offset="0.955" stop-color="#f8008e"/><stop offset="1.000" stop-color="#f8008a"/></linearGradient><linearGradient id="g83" x1="0" x2="1" y1="0" y2="0"><stop offset="0.000" stop-color="#00c8f8"/><stop offset="0.048" stop-color="#00c2f8"/><stop offset="0.095" stop-color="#00bbf8"/><stop offset="0.143" stop-color="#00b1f8"/><stop offset="0.190" stop-color="#00a3f8"/><stop offset="0.238" stop-color="#008df8"/><stop offset="0.286" stop-color="#6386f8"/><stop offset="0.333" stop-color="#8d7ff8"/><stop offset="0.381" stop-color="#ad76f8"/><stop offset="0.429" stop-color="#c96cf8"/><stop offset="0.476" stop-color="#e35ff8"/><stop offset="0.524" stop-color="#f84df6"/><stop offset="0.571" stop-color="#f82de1"/><stop offset="0.619" stop-color="#f800d0"/><stop offset="0.667" stop-color="#f800c3"/><stop offset="0.714" stop-color="#f800b8"/><stop offset="0.762" stop-color="#f800af"/><stop offset="0.810" stop-color="#f800a7"/><stop offset="0.857" stop-color="#f800a0"/><stop offset="0.905" stop-color="#f8009a"/><stop offset="0.952" stop-color="#f80095"/><stop offset="1.000" stop-color="#f80090"/></linearGradient><linearGradient id="g84" x1="0" x2="1" y1="0" y2="0"><stop offset="0.000" stop-color="#00c5f8"/><stop offset="0.050" stop-color="#00bff8"/><stop offset="0.100" stop-color="#00b7f8"/><stop offset="0.150" stop-color="#00acf8"/><stop offset="0.200" stop-color="#009cf8"/><stop offset="0.250" stop-color="#2386f8"/><stop offset="0.300" stop-color="#6c7ff8"/><stop offset="0.350" stop-color="#9376f8"/><stop offset="0.400" stop-color="#b26cf8"/><stop offset="0.450" stop-color="#ce60f8"/><stop offset="0.500" stop-color="#e750f8"/><stop offset="0.550" stop-color="#f837f2"/><stop offset="0.600" stop-color="#f800de"/><stop offset="0.650" stop-color="#f800cf"/><stop offset="0.700" stop-color="#f800c2"/><stop offset="0.750" stop-color="#f800b8"/><stop offset="0.800" stop-color="#f800af"/><stop offset="0.850" stop-color="#f800a7"/><stop offset="0.900" stop-color="#f800a1"/><stop offset="0.950" stop-color="#f8009b"/><stop offset="1.000" stop-color="#f80096"/></linearGradient><linearGradient id="g85" x1="0" x2="1" y1="0" y2="0"><stop offset="0.000" stop-color="#00c1f8"/><stop offset="0.053" stop-color="#00baf8"/><stop offset="0.105" stop-color="#00b1f8"/><stop offset="0.158" stop-color="#00a4f8"/><stop offset="0.211" stop-color="#0092f8"/><stop offset="0.263" stop-color="#3f7ef8"/><stop offset="0.316" stop-color="#7676f8"/><stop offset="0.368" stop-color="#9a6df8"/><stop offset="0.421" stop-color="#b861f8"/><stop offset="0.474" stop-color="#d352f8"/><stop offset="0.526" stop-color="#eb3df8"/><stop offset="0.579" stop-color="#f811ef"/><stop offset="0.632" stop-color="#f800dc"/><stop offset="0.684" stop-color="#f800ce"/><stop offset="0.737" stop-color="#f800c2"/><stop offset="0.789" stop-color="#f800b8"/><stop offset="0.842" stop-color="#f800b0"/><stop offset="0.895" stop-color="#f800a8"/><stop offset="0.947" stop-color="#f800a2"/><stop offset="1.000" stop-color="#f8009c"/></linearGradient><linearGradient id="g86" x1="0" x2="1" y1="0" y2="0"><stop offset="0.000" stop-color="#00bdf8"/><stop offset="0.056" stop-color="#00b5f8"/><stop offset="0.111" stop-color="#00abf8"/><stop offset="0.167" stop-color="#009cf8"/><stop offset="0.222" stop-color="#0085f8"/><stop offset="0.278" stop-color="#5376f8"/><stop offset="0.333" stop-color="#826df8"/><stop offset="0.389" stop-color="#a361f8"/><stop offset="0.444" stop-color="#c053f8"/><stop offset="0.500" stop-color="#d940f8"/><stop offset="0.556" stop-color="#f11cf8"/><stop offset="0.611" stop-color="#f800ea"/><stop offset="0.667" stop-color="#f800d9"/><stop offset="0.722" stop-color="#f800cc"/><stop offset="0.778" stop-color="#f800c1"/><stop offset="0.833" stop-color="#f800b7"/><stop offset="0.889" stop-color="#f800af"/><stop offset="0.944" stop-color="#f800a8"/><stop offset="1.000" stop-color="#f800a2"/></linearGradient><linearGradient id="g87" x1="0" x2="1" y1="0" y2="0"><stop offset="0.000" stop-color="#00baf8"/><stop offset="0.059" stop-color="#00b1f8"/><stop offset="0.118" stop-color="#00a6f8"/><stop offset="0.176" stop-color="#0095f8"/><stop offset="0.235" stop-color="#007af8"/><stop offset="0.294" stop-color="#5d6ef8"/><stop offset="0.353" stop-color="#8863f8"/><stop offset="0.412" stop-color="#a956f8"/><stop offset="0.471" stop-color="#c444f8"/><stop offset="0.529" stop-color="#de26f8"/><stop offset="0.588" stop-color="#f600f8"/><stop offset="0.647" stop-color="#f800e7"/><stop offset="0.706" stop-color="#f800d7"/><stop offset="0.765" stop-color="#f800ca"/><stop offset="0.824" stop-color="#f800c0"/><stop offset="0.882" stop-color="#f800b7"/><stop offset="0.941" stop-color="#f800af"/><stop offset="1.000" stop-color="#f800a8"/></linearGradient><linearGradient id="g88" x1="0" x2="1" y1="0" y2="0"><stop offset="0.000" stop-color="#00b6f8"/><stop offset="0.062" stop-color="#00acf8"/><stop offset="0.125" stop-color="#009ff8"/><stop offset="0.188" stop-color="#008bf8"/><stop offset="0.250" stop-color="#216ef8"/><stop offset="0.312" stop-color="#6a64f8"/><stop offset="0.375" stop-color="#9058f8"/><stop offset="0.438" stop-color="#af47f8"/><stop offset="0.500" stop-color="#ca2ef8"/><stop offset="0.562" stop-color="#e300f8"/><stop offset="0.625" stop-color="#f800f8"/><stop offset="0.688" stop-color="#f800e5"/><stop offset="0.750" stop-color="#f800d6"/><stop offset="0.812" stop-color="#f800ca"/><stop offset="0.875" stop-color="#f800c0"/><stop offset="0.938" stop-color="#f800b7"/><stop offset="1.000" stop-color="#f800af"/></linearGradient><linearGradient id="g89" x1="0" x2="1" y1="0" y2="0"><stop offset="0.000" stop-color="#00b1f8"/><stop offset="0.062" stop-color="#00a7f8"/><stop offset="0.125" stop-color="#0099f8"/><stop offset="0.188" stop-color="#0084f8"/><stop offset="0.250" stop-color="#2867f8"/><stop offset="0.312" stop-color="#695df8"/><stop offset="0.375" stop-color="#8d50f8"/><stop offset="0.438" stop-color="#ab3ef8"/><stop offset="0.500" stop-color="#c420f8"/><stop offset="0.562" stop-color="#dc00f8"/><stop offset="0.625" stop-color="#f200f8"/><stop offset="0.688" stop-color="#f800ec"/><stop offset="0.750" stop-color="#f800dd"/><stop offset="0.812" stop-color="#f800d1"/><stop offset="0.875" stop-color="#f800c6"/><stop offset="0.938" stop-color="#f800bd"/><stop offset="1.000" stop-color="#f800b6"/></linearGradient><linearGradient id="g90" x1="0" x2="1" y1="0" y2="0"><stop offset="0.000" stop-color="#00adf8"/><stop offset="0.067" stop-color="#00a2f8"/><stop offset="0.133" stop-color="#0092f8"/><stop offset="0.200" stop-color="#007bf8"/><stop offset="0.267" stop-color="#395ff8"/><stop offset="0.333" stop-color="#7052f8"/><stop offset="0.400" stop-color="#9342f8"/><stop offset="0.467" stop-color="#b028f8"/><stop offset="0.533" stop-color="#ca00f8"/><stop offset="0.600" stop-color="#e100f8"/><stop offset="0.667" stop-color="#f600f8"/><stop offset="0.733" stop-color="#f800e9"/><stop offset="0.800" stop-color="#f800db"/><stop offset="0.867" stop-color="#f800cf"/><stop offset="0.933" stop-color="#f800c5"/><stop offset="1.000" stop-color="#f800bc"/></linearGradient><linearGradient id="g91" x1="0" x2="1" y1="0" y2="0"><stop offset="0.000" stop-color="#00a8f8"/><stop offset="0.071" stop-color="#009bf8"/><stop offset="0.143" stop-color="#0089f8"/><stop offset="0.214" stop-color="#006df8"/><stop offset="0.286" stop-color="#4b54f8"/><stop offset="0.357" stop-color="#7a45f8"/><stop offset="0.429" stop-color="#9a2ff8"/><stop offset="0.500" stop-color="#b600f8"/><stop offset="0.571" stop-color="#d000f8"/><stop offset="0.643" stop-color="#e600f8"/><stop offset="0.714" stop-color="#f800f8"/><stop offset="0.786" stop-color="#f800e7"/><stop offset="0.857" stop-color="#f800da"/><stop offset="0.929" stop-color="#f800ce"/><stop offset="1.000" stop-color="#f800c5"/></linearGradient><linearGradient id="g92" x1="0" x2="1" y1="0" y2="0"><stop offset="0.000" stop-color="#00a2f8"/><stop offset="0.077" stop-color="#0094f8"/><stop offset="0.154" stop-color="#007ef8"/><stop offset="0.231" stop-color="#0059f8"/><stop offset="0.308" stop-color="#5c47f8"/><stop offset="0.385" stop-color="#8433f8"/><stop offset="0.462" stop-color="#a200f8"/><stop offset="0.538" stop-color="#bf00f8"/><stop offset="0.615" stop-color="#d700f8"/><stop offset="0.692" stop-color="#ec00f8"/><stop offset="0.769" stop-color="#f800f3"/><stop offset="0.846" stop-color="#f800e3"/><stop offset="0.923" stop-color="#f800d7"/><stop offset="1.000" stop-color="#f800cc"/></linearGradient><linearGradient id="g93" x1="0" x2="1" y1="0" y2="0"><stop offset="0.000" stop-color="#009cf8"/><stop offset="0.083" stop-color="#008bf8"/><stop offset="0.167" stop-color="#0071f8"/><stop offset="0.250" stop-color="#2b49f8"/><stop offset="0.333" stop-color="#6936f8"/><stop offset="0.417" stop-color="#8e11f8"/><stop offset="0.500" stop-color="#ad00f8"/><stop offset="0.583" stop-color="#c800f8"/><stop offset="0.667" stop-color="#de00f8"/><stop offset="0.750" stop-color="#f200f8"/><stop offset="0.833" stop-color="#f800ee"/><stop offset="0.917" stop-color="#f800e0"/><stop offset="1.000" stop-color="#f800d4"/></linearGradient><linearGradient id="g94" x1="0" x2="1" y1="0" y2="0"><stop offset="0.000" stop-color="#0095f8"/><stop offset="0.091" stop-color="#0082f8"/><stop offset="0.182" stop-color="#0062f8"/><stop offset="0.273" stop-color="#413bf8"/><stop offset="0.364" stop-color="#731ef8"/><stop offset="0.455" stop-color="#9800f8"/><stop offset="0.545" stop-color="#b500f8"/><stop offset="0.636" stop-color="#ce00f8"/><stop offset="0.727" stop-color="#e300f8"/><stop offset="0.818" stop-color="#f500f8"/><stop offset="0.909" stop-color="#f800eb"/><stop offset="1.000" stop-color="#f800de"/></linearGradient><linearGradient id="g95" x1="0" x2="1" y1="0" y2="0"><stop offset="0.000" stop-color="#008ef8"/><stop offset="0.100" stop-color="#0077f8"/><stop offset="0.200" stop-color="#004cf8"/><stop offset="0.300" stop-color="#5425f8"/><stop offset="0.400" stop-color="#8100f8"/><stop offset="0.500" stop-color="#a400f8"/><stop offset="0.600" stop-color="#bf00f8"/><stop offset="0.700" stop-color="#d500f8"/><stop offset="0.800" stop-color="#e900f8"/><stop offset="0.900" stop-color="#f800f6"/><stop offset="1.000" stop-color="#f800e7"/></linearGradient><linearGradient id="g96" x1="0" x2="1" y1="0" y2="0"><stop offset="0.000" stop-color="#0086f8"/><stop offset="0.100" stop-color="#006df8"/><stop offset="0.200" stop-color="#003df8"/><stop offset="0.300" stop-color="#530cf8"/><stop offset="0.400" stop-color="#8000f8"/><stop offset="0.500" stop-color="#a000f8"/><stop offset="0.600" stop-color="#b900f8"/><stop offset="0.700" stop-color="#ce00f8"/><stop offset="0.800" stop-color="#e100f8"/><stop offset="0.900" stop-color="#f200f8"/><stop offset="1.000" stop-color="#f800f0"/></linearGradient><linearGradient id="g97" x1="0" x2="1" y1="0" y2="0"><stop offset="0.000" stop-color="#007df8"/><stop offset="0.111" stop-color="#005ff8"/><stop offset="0.222" stop-color="#1919f8"/><stop offset="0.333" stop-color="#6500f8"/><stop offset="0.444" stop-color="#8b00f8"/><stop offset="0.556" stop-color="#a700f8"/><stop offset="0.667" stop-color="#bf00f8"/><stop offset="0.778" stop-color="#d200f8"/><stop offset="0.889" stop-color="#e400f8"/><stop offset="1.000" stop-color="#f400f8"/></linearGradient><linearGradient id="g98" x1="0" x2="1" y1="0" y2="0"><stop offset="0.000" stop-color="#0072f8"/><stop offset="0.125" stop-color="#004bf8"/><stop offset="0.250" stop-color="#4000f8"/><stop offset="0.375" stop-color="#7600f8"/><stop offset="0.500" stop-color="#9700f8"/><stop offset="0.625" stop-color="#b000f8"/><stop offset="0.750" stop-color="#c600f8"/><stop offset="0.875" stop-color="#d900f8"/><stop offset="1.000" stop-color="#ea00f8"/></linearGradient><linearGradient id="g99" x1="0" x2="1" y1="0" y2="0"><stop offset="0.000" stop-color="#0066f8"/><stop offset="0.143" stop-color="#002ff8"/><stop offset="0.286" stop-color="#5700f8"/><stop offset="0.429" stop-color="#8100f8"/><stop offset="0.571" stop-color="#9f00f8"/><stop offset="0.714" stop-color="#b700f8"/><stop offset="0.857" stop-color="#cb00f8"/><stop offset="1.000" stop-color="#dd00f8"/></linearGradient><linearGradient id="g100" x1="0" x2="1" y1="0" y2="0"><stop offset="0.000" stop-color="#0057f8"/><stop offset="0.167" stop-color="#2600f8"/><stop offset="0.333" stop-color="#6a00f8"/><stop offset="0.500" stop-color="#8e00f8"/><stop offset="0.667" stop-color="#a900f8"/><stop offset="0.833" stop-color="#bf00f8"/><stop offset="1.000" stop-color="#d200f8"/></linearGradient><linearGradient id="g101" x1="0" x2="1" y1="0" y2="0"><stop offset="0.000" stop-color="#0038f8"/><stop offset="0.200" stop-color="#5100f8"/><stop offset="0.400" stop-color="#7d00f8"/><stop offset="0.600" stop-color="#9b00f8"/><stop offset="0.800" stop-color="#b300f8"/><stop offset="1.000" stop-color="#c800f8"/></linearGradient><linearGradient id="g102" x1="0" x2="1" y1="0" y2="0"><stop offset="0.000" stop-color="#0500f8"/><stop offset="0.250" stop-color="#6300f8"/><stop offset="0.500" stop-color="#8800f8"/><stop offset="0.750" stop-color="#a300f8"/><stop offset="1.000" stop-color="#ba00f8"/></linearGradient><linearGradient id="g103" x1="0" x2="1" y1="0" y2="0"><stop offset="0.000" stop-color="#4f00f8"/><stop offset="0.333" stop-color="#7a00f8"/><stop offset="0.667" stop-color="#9700f8"/><stop offset="1.000" stop-color="#af00f8"/></linearGradient><linearGradient id="g104" x1="0" x2="1" y1="0" y2="0"><stop offset="0.000" stop-color="#6600f8"/><stop offset="0.500" stop-color="#8900f8"/><stop offset="1.000" stop-color="#a300f8"/></linearGradient>
<marker id="ah" viewBox="0 0 10 10" refX="10" refY="5" markerWidth="11" markerHeight="8.6" markerUnits="userSpaceOnUse" orient="auto"><path d="M0,0L10,5L0,10Z" fill="#000"/></marker>
</defs>
<rect width="666" height="554" fill="#fff"/>
<path d="M110,13.5H657.5V452.5" fill="none" stroke="#444" stroke-width="1.5"/>
<path d="M110,13.5V452.3H657.5" fill="none" stroke="#1a1a1a" stroke-width="2.0"/>
<path d="M101.0,452.5H110M105.5,415.9H110M101.0,379.3H110M105.5,342.8H110M101.0,306.2H110M105.5,269.6H110M101.0,233.0H110M105.5,196.4H110M101.0,159.8H110M105.5,123.2H110M101.0,86.7H110M105.5,50.1H110M101.0,13.5H110M110.0,452.5V461.5M137.4,452.5V457.0M164.8,452.5V461.5M192.1,452.5V457.0M219.5,452.5V461.5M246.9,452.5V457.0M274.2,452.5V461.5M301.6,452.5V457.0M329.0,452.5V461.5M356.4,452.5V457.0M383.8,452.5V461.5M411.1,452.5V457.0M438.5,452.5V461.5M465.9,452.5V457.0M493.2,452.5V461.5M520.6,452.5V457.0M548.0,452.5V461.5M575.4,452.5V457.0M602.8,452.5V461.5M630.1,452.5V457.0M657.5,452.5V461.5" stroke="#1a1a1a" stroke-width="2.0" fill="none"/>
<g font-family="Liberation Serif" font-size="26.8" fill="#000"><text transform="translate(96.5,461.5) scale(1,1.15)" text-anchor="end">-2</text><text transform="translate(96.5,388.3) scale(1,1.15)" text-anchor="end">0</text><text transform="translate(96.5,315.2) scale(1,1.15)" text-anchor="end">2</text><text transform="translate(96.5,242.0) scale(1,1.15)" text-anchor="end">4</text><text transform="translate(96.5,168.8) scale(1,1.15)" text-anchor="end">6</text><text transform="translate(96.5,95.7) scale(1,1.15)" text-anchor="end">8</text><text transform="translate(96.5,22.5) scale(1,1.15)" text-anchor="end">10</text><text transform="translate(108.5,489.9) scale(1,1.15)" text-anchor="middle">-5</text><text transform="translate(163.2,489.9) scale(1,1.15)" text-anchor="middle">-4</text><text transform="translate(218.0,489.9) scale(1,1.15)" text-anchor="middle">-3</text><text transform="translate(272.8,489.9) scale(1,1.15)" text-anchor="middle">-2</text><text transform="translate(327.5,489.9) scale(1,1.15)" text-anchor="middle">-1</text><text transform="translate(383.8,489.9) scale(1,1.15)" text-anchor="middle">0</text><text transform="translate(438.5,489.9) scale(1,1.15)" text-anchor="middle">1</text><text transform="translate(493.2,489.9) scale(1,1.15)" text-anchor="middle">2</text><text transform="translate(548.0,489.9) scale(1,1.15)" text-anchor="middle">3</text><text transform="translate(602.8,489.9) scale(1,1.15)" text-anchor="middle">4</text><text transform="translate(657.5,489.9) scale(1,1.15)" text-anchor="middle">5</text></g>
<text transform="translate(278.3,540.6) scale(0.93,1.045)" font-family="Liberation Serif" font-size="45" letter-spacing="1.78" fill="#000">Voltage (V)</text>
<text transform="translate(37.9,348.8) rotate(-90) scale(0.972,1.14)" x="-2" font-family="Liberation Serif" font-size="45" letter-spacing="2.0" fill="#000">Current (mA)</text>
<clipPath id="gc"><path d="M263.5,276.0 L263.5,47.4 L288.3,47.4 L323.9,81.4 L331.5,92.0 L340.6,100.2 L349.8,108.6 L358.9,117.4 L368.0,126.2 L377.1,135.1 L386.0,143.9 L394.6,152.4 L402.9,160.6 L410.6,168.3 L417.7,175.3 L423.9,181.4 L429.3,186.7 L433.8,191.2 L437.5,194.8 L440.4,197.7 L442.7,200.0 L444.6,201.8 L446.1,203.4 L447.4,204.7 L448.4,205.6 L449.2,206.4 L449.8,207.0 L450.2,207.4 L450.5,207.7 L450.7,207.9 L450.9,208.1 L451.1,208.3 L451.3,208.4 L451.4,208.5 L451.4,208.6 L451.4,208.6 L468.1,225.2 L468.1,276.0Z"/></clipPath>
<path d="M263.5,276.0V47.4M276.3,276.0V47.4M289.1,276.0V47.4M301.9,276.0V47.4M314.7,276.0V47.4M327.4,276.0V47.4M340.2,276.0V47.4M353.0,276.0V47.4M365.8,276.0V47.4M378.6,276.0V47.4M391.4,276.0V47.4M404.2,276.0V47.4M417.0,276.0V47.4M429.8,276.0V47.4M442.6,276.0V47.4M455.4,276.0V47.4M468.1,276.0V47.4M263.5,276.0H468.1M263.5,263.3H468.1M263.5,250.6H468.1M263.5,237.9H468.1M263.5,225.2H468.1M263.5,212.5H468.1M263.5,199.8H468.1M263.5,187.1H468.1M263.5,174.4H468.1M263.5,161.7H468.1M263.5,149.0H468.1M263.5,136.3H468.1M263.5,123.6H468.1M263.5,110.9H468.1M263.5,98.2H468.1M263.5,85.5H468.1M263.5,72.8H468.1M263.5,60.1H468.1M263.5,47.4H468.1" stroke="#ececec" stroke-width="0.9" fill="none" clip-path="url(#gc)"/>
<path d="M288.3,47.4L323.9,81.4M451.4,208.6L468.1,225.2V276.0" stroke="#e6e6e6" stroke-width="0.9" fill="none"/>
<filter id="cb" x="-5%" y="-5%" width="110%" height="110%"><feGaussianBlur stdDeviation="1.2 1.5"/></filter>
<g clip-path="url(#lc)"><g filter="url(#cb)"><rect x="277.9" y="64.0" width="12.0" height="2.6" fill="url(#g0)"/><rect x="274.9" y="66.0" width="23.0" height="2.6" fill="url(#g1)"/><rect x="270.9" y="68.0" width="31.0" height="2.6" fill="url(#g2)"/><rect x="269.9" y="70.0" width="36.0" height="2.6" fill="url(#g3)"/><rect x="268.9" y="72.0" width="40.0" height="2.6" fill="url(#g4)"/><rect x="267.9" y="74.0" width="44.0" height="2.6" fill="url(#g5)"/><rect x="266.9" y="76.0" width="49.0" height="2.6" fill="url(#g6)"/><rect x="265.9" y="78.0" width="52.0" height="2.6" fill="url(#g7)"/><rect x="264.9" y="80.0" width="56.0" height="2.6" fill="url(#g8)"/><rect x="264.9" y="82.0" width="59.0" height="2.6" fill="url(#g9)"/><rect x="263.9" y="84.0" width="63.0" height="2.6" fill="url(#g10)"/><rect x="262.9" y="86.0" width="66.0" height="2.6" fill="url(#g11)"/><rect x="262.9" y="88.0" width="68.0" height="2.6" fill="url(#g12)"/><rect x="262.9" y="90.0" width="71.0" height="2.6" fill="url(#g13)"/><rect x="262.9" y="92.0" width="73.0" height="2.6" fill="url(#g14)"/><rect x="262.9" y="94.0" width="75.0" height="2.6" fill="url(#g15)"/><rect x="261.9" y="96.0" width="79.0" height="2.6" fill="url(#g16)"/><rect x="261.9" y="98.0" width="81.0" height="2.6" fill="url(#g17)"/><rect x="261.9" y="100.0" width="83.0" height="2.6" fill="url(#g18)"/><rect x="261.9" y="102.0" width="85.0" height="2.6" fill="url(#g19)"/><rect x="261.9" y="104.0" width="87.0" height="2.6" fill="url(#g20)"/><rect x="260.9" y="106.0" width="91.0" height="2.6" fill="url(#g21)"/><rect x="260.9" y="108.0" width="93.0" height="2.6" fill="url(#g22)"/><rect x="260.9" y="110.0" width="95.0" height="2.6" fill="url(#g23)"/><rect x="260.9" y="112.0" width="97.0" height="2.6" fill="url(#g24)"/><rect x="260.9" y="114.0" width="99.0" height="2.6" fill="url(#g25)"/><rect x="260.9" y="116.0" width="101.0" height="2.6" fill="url(#g26)"/><rect x="260.9" y="118.0" width="103.0" height="2.6" fill="url(#g27)"/><rect x="260.9" y="120.0" width="105.0" height="2.6" fill="url(#g28)"/><rect x="261.9" y="122.0" width="106.0" height="2.6" fill="url(#g29)"/><rect x="261.9" y="124.0" width="108.0" height="2.6" fill="url(#g30)"/><rect x="261.9" y="126.0" width="110.0" height="2.6" fill="url(#g31)"/><rect x="261.9" y="128.0" width="112.0" height="2.6" fill="url(#g32)"/><rect x="261.9" y="130.0" width="114.0" height="2.6" fill="url(#g33)"/><rect x="261.9" y="132.0" width="117.0" height="2.6" fill="url(#g34)"/><rect x="261.9" y="134.0" width="119.0" height="2.6" fill="url(#g35)"/><rect x="261.9" y="136.0" width="121.0" height="2.6" fill="url(#g36)"/><rect x="261.9" y="138.0" width="123.0" height="2.6" fill="url(#g37)"/><rect x="261.9" y="140.0" width="125.0" height="2.6" fill="url(#g38)"/><rect x="262.9" y="142.0" width="126.0" height="2.6" fill="url(#g39)"/><rect x="262.9" y="144.0" width="128.0" height="2.6" fill="url(#g40)"/><rect x="262.9" y="146.0" width="130.0" height="2.6" fill="url(#g41)"/><rect x="262.9" y="148.0" width="132.0" height="2.6" fill="url(#g42)"/><rect x="263.9" y="150.0" width="133.0" height="2.6" fill="url(#g43)"/><rect x="263.9" y="152.0" width="135.0" height="2.6" fill="url(#g44)"/><rect x="263.9" y="154.0" width="137.0" height="2.6" fill="url(#g45)"/><rect x="263.9" y="156.0" width="139.0" height="2.6" fill="url(#g46)"/><rect x="264.9" y="158.0" width="140.0" height="2.6" fill="url(#g47)"/><rect x="264.9" y="160.0" width="142.0" height="2.6" fill="url(#g48)"/><rect x="264.9" y="162.0" width="144.0" height="2.6" fill="url(#g49)"/><rect x="264.9" y="164.0" width="146.0" height="2.6" fill="url(#g50)"/><rect x="265.9" y="166.0" width="147.0" height="2.6" fill="url(#g51)"/><rect x="265.9" y="168.0" width="149.0" height="2.6" fill="url(#g52)"/><rect x="265.9" y="170.0" width="151.0" height="2.6" fill="url(#g53)"/><rect x="265.9" y="172.0" width="153.0" height="2.6" fill="url(#g54)"/><rect x="266.9" y="174.0" width="154.0" height="2.6" fill="url(#g55)"/><rect x="266.9" y="176.0" width="156.0" height="2.6" fill="url(#g56)"/><rect x="267.9" y="178.0" width="157.0" height="2.6" fill="url(#g57)"/><rect x="267.9" y="180.0" width="159.0" height="2.6" fill="url(#g58)"/><rect x="267.9" y="182.0" width="161.0" height="2.6" fill="url(#g59)"/><rect x="268.9" y="184.0" width="162.0" height="2.6" fill="url(#g60)"/><rect x="268.9" y="186.0" width="164.0" height="2.6" fill="url(#g61)"/><rect x="268.9" y="188.0" width="166.0" height="2.6" fill="url(#g62)"/><rect x="269.9" y="190.0" width="167.0" height="2.6" fill="url(#g63)"/><rect x="269.9" y="192.0" width="169.0" height="2.6" fill="url(#g64)"/><rect x="270.9" y="194.0" width="170.0" height="2.6" fill="url(#g65)"/><rect x="270.9" y="196.0" width="172.0" height="2.6" fill="url(#g66)"/><rect x="270.9" y="198.0" width="174.0" height="2.6" fill="url(#g67)"/><rect x="271.9" y="200.0" width="175.0" height="2.6" fill="url(#g68)"/><rect x="271.9" y="202.0" width="177.0" height="2.6" fill="url(#g69)"/><rect x="272.9" y="204.0" width="178.0" height="2.6" fill="url(#g70)"/><rect x="272.9" y="206.0" width="180.0" height="2.6" fill="url(#g71)"/><rect x="273.9" y="208.0" width="180.0" height="2.6" fill="url(#g72)"/><rect x="273.9" y="210.0" width="176.0" height="2.6" fill="url(#g73)"/><rect x="274.9" y="212.0" width="170.0" height="2.6" fill="url(#g74)"/><rect x="274.9" y="214.0" width="166.0" height="2.6" fill="url(#g75)"/><rect x="275.9" y="216.0" width="161.0" height="2.6" fill="url(#g76)"/><rect x="275.9" y="218.0" width="156.0" height="2.6" fill="url(#g77)"/><rect x="276.9" y="220.0" width="151.0" height="2.6" fill="url(#g78)"/><rect x="276.9" y="222.0" width="147.0" height="2.6" fill="url(#g79)"/><rect x="277.9" y="224.0" width="141.0" height="2.6" fill="url(#g80)"/><rect x="277.9" y="226.0" width="137.0" height="2.6" fill="url(#g81)"/><rect x="278.9" y="228.0" width="132.0" height="2.6" fill="url(#g82)"/><rect x="279.9" y="230.0" width="126.0" height="2.6" fill="url(#g83)"/><rect x="279.9" y="232.0" width="122.0" height="2.6" fill="url(#g84)"/><rect x="280.9" y="234.0" width="116.0" height="2.6" fill="url(#g85)"/><rect x="281.9" y="236.0" width="111.0" height="2.6" fill="url(#g86)"/><rect x="281.9" y="238.0" width="107.0" height="2.6" fill="url(#g87)"/><rect x="282.9" y="240.0" width="101.0" height="2.6" fill="url(#g88)"/><rect x="283.9" y="242.0" width="96.0" height="2.6" fill="url(#g89)"/><rect x="283.9" y="244.0" width="92.0" height="2.6" fill="url(#g90)"/><rect x="284.9" y="246.0" width="86.0" height="2.6" fill="url(#g91)"/><rect x="285.9" y="248.0" width="81.0" height="2.6" fill="url(#g92)"/><rect x="286.9" y="250.0" width="76.0" height="2.6" fill="url(#g93)"/><rect x="287.9" y="252.0" width="70.0" height="2.6" fill="url(#g94)"/><rect x="288.9" y="254.0" width="65.0" height="2.6" fill="url(#g95)"/><rect x="289.9" y="256.0" width="60.0" height="2.6" fill="url(#g96)"/><rect x="290.9" y="258.0" width="54.0" height="2.6" fill="url(#g97)"/><rect x="291.9" y="260.0" width="49.0" height="2.6" fill="url(#g98)"/><rect x="292.9" y="262.0" width="43.0" height="2.6" fill="url(#g99)"/><rect x="293.9" y="264.0" width="38.0" height="2.6" fill="url(#g100)"/><rect x="295.9" y="266.0" width="32.0" height="2.6" fill="url(#g101)"/><rect x="296.9" y="268.0" width="26.0" height="2.6" fill="url(#g102)"/><rect x="299.9" y="270.0" width="19.0" height="2.6" fill="url(#g103)"/><rect x="301.9" y="272.0" width="13.0" height="2.6" fill="url(#g104)"/></g></g>
<path d="M307.3,274.7C307.3,274.7 307.2,274.6 307.1,274.5C307.0,274.5 306.8,274.4 306.7,274.2C306.6,274.1 306.4,274.0 306.2,273.8C306.0,273.6 305.8,273.5 305.6,273.2C305.3,273.0 305.0,272.8 304.7,272.5C304.4,272.2 304.0,271.9 303.6,271.5C303.1,271.1 302.7,270.7 302.1,270.2C301.6,269.7 301.0,269.2 300.3,268.5C299.7,267.7 299.0,267.1 298.2,265.9C297.3,264.7 296.3,263.3 295.2,261.3C294.1,259.3 292.9,257.1 291.5,254.0C290.1,250.8 288.6,247.1 286.9,242.3C285.1,237.5 283.0,231.9 281.1,225.0C279.1,218.2 277.0,210.0 275.1,201.1C273.2,192.1 271.1,181.5 269.5,171.2C267.9,160.9 266.4,149.5 265.6,139.2C264.8,129.0 264.3,118.6 264.5,109.7C264.7,100.7 265.6,92.1 267.1,85.4C268.5,78.8 270.9,73.3 273.5,69.8C276.0,66.2 279.3,64.8 282.5,64.2C285.7,63.6 289.3,65.0 292.7,66.1C296.1,67.3 299.7,69.4 303.1,71.3C306.4,73.2 309.7,75.3 312.8,77.5C316.0,79.7 319.1,82.0 322.2,84.4C325.3,86.8 328.4,89.4 331.5,92.0C334.6,94.7 337.6,97.4 340.6,100.2C343.7,102.9 346.7,105.8 349.8,108.6C352.8,111.5 355.9,114.4 358.9,117.4C362.0,120.3 365.0,123.3 368.0,126.2C371.1,129.2 374.1,132.2 377.1,135.1C380.1,138.0 383.1,141.0 386.0,143.9C388.9,146.8 391.8,149.6 394.6,152.4C397.4,155.2 400.2,157.9 402.9,160.6C405.5,163.2 408.2,165.8 410.6,168.3C413.1,170.7 415.5,173.1 417.7,175.3C419.9,177.5 422.0,179.5 423.9,181.4C425.8,183.3 427.7,185.1 429.3,186.7C431.0,188.4 432.5,189.8 433.8,191.2C435.2,192.5 436.4,193.7 437.5,194.8C438.6,195.9 439.5,196.8 440.4,197.7C441.3,198.6 442.0,199.3 442.7,200.0C443.4,200.7 444.0,201.3 444.6,201.8C445.2,202.4 445.7,202.9 446.1,203.4C446.6,203.9 447.0,204.3 447.4,204.7C447.8,205.0 448.1,205.3 448.4,205.6C448.7,205.9 449.0,206.2 449.2,206.4C449.4,206.6 449.6,206.8 449.8,207.0C450.0,207.2 450.1,207.3 450.2,207.4C450.4,207.5 450.4,207.6 450.5,207.7C450.6,207.8 450.7,207.9 450.7,207.9C450.8,208.0 450.9,208.0 450.9,208.1C451.0,208.2 451.0,208.2 451.1,208.3C451.2,208.3 451.2,208.4 451.3,208.4C451.3,208.5 451.3,208.5 451.4,208.5C451.4,208.6 451.4,208.6 451.4,208.6C451.4,208.6 451.4,208.6 451.4,208.6" fill="none" stroke="#000" stroke-width="1.2"/>
<path d="M304.7,272.5L302.7,274.8M303.6,271.5L301.6,273.8M302.1,270.2L300.1,272.4M300.3,268.5L296.6,271.8M298.2,265.9L295.7,267.6M295.2,261.3L292.6,262.8M291.5,254.0L288.8,255.2M286.9,242.3L282.2,244.0M273.5,69.8L271.0,68.0M282.5,64.2L281.6,59.3M292.7,66.1L293.7,63.3M303.1,71.3L304.5,68.7M312.8,77.5L314.5,75.0M322.2,84.4L325.3,80.5M331.5,92.0L333.4,89.7M340.6,100.2L342.7,97.9M349.8,108.6L351.8,106.5M358.9,117.4L362.4,113.8M368.0,126.2L370.1,124.1M377.1,135.1L379.2,133.0M386.0,143.9L388.1,141.7M394.6,152.4L398.1,148.9M402.9,160.6L405.0,158.4M410.6,168.3L412.7,166.1M417.7,175.3L419.8,173.2M423.9,181.4L427.4,177.8M429.3,186.7L431.4,184.6M433.8,191.2L435.9,189.0M437.5,194.8L439.6,192.7M440.4,197.7L443.9,194.1M442.7,200.0L444.8,197.8M444.6,201.8L446.7,199.7M446.1,203.4L448.3,201.3M447.4,204.7L450.9,201.1M448.4,205.6L450.5,203.5M449.2,206.4L451.3,204.3M449.8,207.0L451.9,204.9M450.2,207.4L453.8,203.9M450.5,207.7L452.6,205.6M450.7,207.9L452.9,205.8M450.9,208.1L453.0,206.0M451.1,208.3L454.6,204.7M451.3,208.4L453.4,206.3M451.4,208.5L453.5,206.4" stroke="#111" stroke-width="0.8" fill="none"/>
<g font-family="Liberation Serif" font-size="9.4" fill="#1010ff" text-anchor="middle"><text x="288.3" y="275.5">460</text><text x="273.7" y="247.6">480</text><text x="252.1" y="142.5">500</text><text x="281.0" y="58.2">520</text><text x="333.5" y="79.8">540</text><text x="370.3" y="112.9">560</text><text x="406.2" y="148.9">580</text><text x="435.2" y="177.6">600</text><text x="451.5" y="193.6">620</text></g>
<path d="M263.5,47.4V276.0H468.1" fill="none" stroke="#222" stroke-width="1.3"/>
<path d="M260.3,276.0H263.5M261.3,263.3H263.5M260.3,250.6H263.5M261.3,237.9H263.5M260.3,225.2H263.5M261.3,212.5H263.5M260.3,199.8H263.5M261.3,187.1H263.5M260.3,174.4H263.5M261.3,161.7H263.5M260.3,149.0H263.5M261.3,136.3H263.5M260.3,123.6H263.5M261.3,110.9H263.5M260.3,98.2H263.5M261.3,85.5H263.5M260.3,72.8H263.5M261.3,60.1H263.5M260.3,47.4H263.5M263.5,279.2V276.0M276.3,278.2V276.0M289.1,279.2V276.0M301.9,278.2V276.0M314.7,279.2V276.0M327.4,278.2V276.0M340.2,279.2V276.0M353.0,278.2V276.0M365.8,279.2V276.0M378.6,278.2V276.0M391.4,279.2V276.0M404.2,278.2V276.0M417.0,279.2V276.0M429.8,278.2V276.0M442.6,279.2V276.0M455.4,278.2V276.0M468.1,279.2V276.0" stroke="#222" stroke-width="1.1" fill="none"/>
<g font-family="Liberation Serif" font-size="9.5" fill="#2a2a2a"><text x="259.5" y="279.2" text-anchor="end">0.0</text><text x="259.5" y="253.8" text-anchor="end">0.1</text><text x="259.5" y="228.4" text-anchor="end">0.2</text><text x="259.5" y="203.0" text-anchor="end">0.3</text><text x="259.5" y="177.6" text-anchor="end">0.4</text><text x="259.5" y="152.2" text-anchor="end">0.5</text><text x="259.5" y="126.8" text-anchor="end">0.6</text><text x="259.5" y="101.4" text-anchor="end">0.7</text><text x="259.5" y="76.0" text-anchor="end">0.8</text><text x="259.5" y="50.6" text-anchor="end">0.9</text><text x="263.5" y="286.5" text-anchor="middle">0.0</text><text x="289.1" y="286.5" text-anchor="middle">0.1</text><text x="314.7" y="286.5" text-anchor="middle">0.2</text><text x="340.2" y="286.5" text-anchor="middle">0.3</text><text x="365.8" y="286.5" text-anchor="middle">0.4</text><text x="391.4" y="286.5" text-anchor="middle">0.5</text><text x="417.0" y="286.5" text-anchor="middle">0.6</text><text x="442.6" y="286.5" text-anchor="middle">0.7</text><text x="468.1" y="286.5" text-anchor="middle">0.8</text></g>
<text x="241.3" y="165.5" font-family="Liberation Serif" font-style="italic" font-size="10" fill="#333">y</text>
<text x="363.8" y="296.5" font-family="Liberation Serif" font-style="italic" font-size="10" fill="#333">x</text>
<path d="M382.2,168.5 C379,155 368,137 350.5,135.6 C337,135 327,142 320.5,154 C315,165 312.5,180 312.3,201" fill="none" stroke="#fff" stroke-width="4.0"/>
<path d="M306.8,200.8 L317.6,201.6 L311.7,211.8 Z" fill="#fff"/>
<g stroke="#000" stroke-width="2.3" fill="none"><path d="M375.5,157.6L383.3,167.6M383.3,157.6L375.5,167.6"/><path d="M349.2,132.8L357.0,142.8M357.0,132.8L349.2,142.8"/><path d="M325.2,137.8L333.0,147.8M333.0,137.8L325.2,147.8"/><path d="M313.5,157.7L321.3,167.7M321.3,157.7L313.5,167.7"/><path d="M310.5,174.6L318.3,184.6M318.3,174.6L310.5,184.6"/><path d="M309.5,178.6L317.3,188.6M317.3,178.6L309.5,188.6"/><path d="M308.7,189.4L316.5,199.4M316.5,189.4L308.7,199.4"/></g>
<circle cx="321.6" cy="96.9" r="4.3" fill="#fff" stroke="#000" stroke-width="1.7"/>
<circle cx="430.1" cy="197.1" r="4.3" fill="#fff" stroke="#000" stroke-width="1.7"/>
<circle cx="308.9" cy="262.4" r="4.3" fill="#fff" stroke="#000" stroke-width="1.7"/>
<rect x="448.4" y="302.9" width="129.3" height="97.8" rx="15" ry="15" fill="none" stroke="#000" stroke-width="4.2" stroke-dasharray="4.5 4.6"/>
<path d="M408.7,251.5 L453.5,303.2" stroke="#000" stroke-width="4.2" stroke-dasharray="4.3 4.3" fill="none"/>
<path d="M400.8,242 L413.5,248 L403.8,256 Z" fill="#000"/>
<clipPath id="pc"><rect x="110" y="13" width="548" height="440"/></clipPath>
<g clip-path="url(#pc)"><g><use href="#ball" x="110.0" y="404.9"/><use href="#ball" x="115.5" y="402.6"/><use href="#ball" x="121.0" y="400.3"/><use href="#ball" x="126.4" y="398.1"/><use href="#ball" x="131.9" y="396.0"/><use href="#ball" x="137.4" y="393.8"/><use href="#ball" x="142.8" y="391.8"/><use href="#ball" x="148.3" y="389.9"/><use href="#ball" x="153.8" y="388.2"/><use href="#ball" x="159.3" y="386.7"/><use href="#ball" x="164.8" y="385.3"/><use href="#ball" x="170.2" y="384.2"/><use href="#ball" x="175.7" y="383.9"/><use href="#ball" x="181.2" y="383.7"/><use href="#ball" x="186.7" y="383.6"/><use href="#ball" x="192.1" y="383.0"/><use href="#ball" x="197.6" y="381.6"/><use href="#ball" x="203.1" y="380.9"/><use href="#ball" x="208.5" y="380.4"/><use href="#ball" x="214.0" y="379.8"/><use href="#ball" x="219.5" y="379.4"/><use href="#ball" x="225.0" y="379.2"/><use href="#ball" x="230.4" y="379.2"/><use href="#ball" x="235.9" y="379.2"/><use href="#ball" x="241.4" y="379.2"/><use href="#ball" x="246.9" y="379.1"/><use href="#ball" x="252.3" y="379.1"/><use href="#ball" x="257.8" y="379.1"/><use href="#ball" x="263.3" y="379.1"/><use href="#ball" x="268.8" y="379.1"/><use href="#ball" x="274.2" y="379.1"/><use href="#ball" x="279.7" y="379.1"/><use href="#ball" x="285.2" y="379.1"/><use href="#ball" x="290.7" y="379.1"/><use href="#ball" x="296.2" y="379.1"/><use href="#ball" x="301.6" y="379.1"/><use href="#ball" x="307.1" y="379.1"/><use href="#ball" x="312.6" y="379.1"/><use href="#ball" x="318.1" y="379.1"/><use href="#ball" x="323.5" y="379.1"/><use href="#ball" x="329.0" y="379.1"/><use href="#ball" x="334.5" y="379.1"/><use href="#ball" x="339.9" y="379.2"/><use href="#ball" x="345.4" y="379.2"/><use href="#ball" x="350.9" y="379.2"/><use href="#ball" x="356.4" y="379.2"/><use href="#ball" x="361.9" y="379.2"/><use href="#ball" x="367.3" y="379.2"/><use href="#ball" x="372.8" y="379.2"/><use href="#ball" x="378.3" y="379.3"/><use href="#ball" x="383.8" y="379.3"/><use href="#ball" x="389.2" y="379.3"/><use href="#ball" x="394.7" y="379.3"/><use href="#ball" x="400.2" y="379.3"/><use href="#ball" x="405.6" y="379.3"/><use href="#ball" x="411.1" y="379.3"/><use href="#ball" x="416.6" y="379.3"/><use href="#ball" x="422.1" y="379.4"/><use href="#ball" x="427.6" y="378.6"/><use href="#ball" x="433.0" y="377.1"/><use href="#ball" x="438.5" y="376.8"/><use href="#ball" x="444.0" y="376.7"/><use href="#ball" x="449.4" y="376.8"/><use href="#ball" x="454.9" y="376.7"/><use href="#ball" x="460.4" y="376.4"/><use href="#ball" x="465.9" y="375.4"/><use href="#ball" x="471.4" y="373.8"/><use href="#ball" x="476.8" y="371.8"/><use href="#ball" x="482.3" y="369.2"/><use href="#ball" x="487.8" y="366.2"/><use href="#ball" x="493.2" y="363.2"/><use href="#ball" x="498.7" y="360.4"/><use href="#ball" x="504.2" y="357.5"/><use href="#ball" x="509.7" y="354.6"/><use href="#ball" x="515.1" y="351.6"/><use href="#ball" x="520.6" y="348.5"/><use href="#ball" x="526.1" y="345.3"/><use href="#ball" x="531.6" y="341.8"/><use href="#ball" x="537.0" y="337.8"/><use href="#ball" x="542.5" y="333.0"/><use href="#ball" x="548.0" y="327.4"/><use href="#ball" x="553.5" y="319.6"/><use href="#ball" x="559.0" y="311.2"/><use href="#ball" x="564.4" y="301.9"/><use href="#ball" x="569.9" y="289.9"/><use href="#ball" x="575.4" y="275.6"/><use href="#ball" x="580.9" y="259.8"/><use href="#ball" x="586.3" y="241.9"/><use href="#ball" x="591.8" y="222.4"/><use href="#ball" x="597.3" y="200.8"/><use href="#ball" x="602.8" y="177.5"/><use href="#ball" x="608.2" y="152.4"/><use href="#ball" x="613.7" y="125.7"/><use href="#ball" x="619.2" y="97.6"/><use href="#ball" x="624.6" y="67.9"/><use href="#ball" x="630.1" y="37.3"/></g>
<polyline points="110.0,404.3 111.3,403.7 112.6,403.1 113.9,402.6 115.3,402.0 116.6,401.4 117.9,400.8 119.2,400.3 120.5,399.7 121.8,399.1 123.1,398.6 124.5,398.0 125.8,397.5 127.1,396.9 128.4,396.4 129.7,395.8 131.0,395.3 132.3,394.8 133.7,394.3 135.0,393.8 136.3,393.2 137.6,392.7 138.9,392.2 140.2,391.8 141.5,391.3 142.9,390.8 144.2,390.3 145.5,389.9 146.8,389.4 148.1,389.0 149.4,388.6 150.8,388.1 152.1,387.7 153.4,387.3 154.7,386.9 156.0,386.6 157.3,386.2 158.6,385.8 160.0,385.5 161.3,385.1 162.6,384.8 163.9,384.5 165.2,384.2 166.5,383.9 167.8,383.6 169.2,383.4 170.5,383.2 171.8,383.1 173.1,383.0 174.4,383.0 175.7,382.9 177.0,382.8 178.4,382.8 179.7,382.7 181.0,382.7 182.3,382.7 183.6,382.6 184.9,382.6 186.2,382.6 187.6,382.6 188.9,382.5 190.2,382.5 191.5,382.3 192.8,381.9 194.1,381.5 195.4,381.2 196.8,381.0 198.1,380.8 199.4,380.6 200.7,380.5 202.0,380.4 203.3,380.3 204.6,380.2 206.0,380.1 207.3,380.0 208.6,379.9 209.9,379.8 211.2,379.7 212.5,379.6 213.8,379.5 215.2,379.4 216.5,379.3 217.8,379.2 219.1,379.2 220.4,379.1 221.7,379.1 223.1,379.0 224.4,379.0 225.7,379.0 227.0,379.0 228.3,379.0 229.6,379.0 230.9,379.0 232.3,379.0 233.6,379.0 234.9,379.0 236.2,379.0 237.5,379.0 238.8,379.0 240.1,379.0 241.5,379.0 242.8,379.0 244.1,379.0 245.4,379.0 246.7,379.0 248.0,378.9 249.3,378.9 250.7,378.9 252.0,378.9 253.3,378.9 254.6,378.9 255.9,378.9 257.2,378.9 258.5,378.9 259.9,378.9 261.2,378.9 262.5,378.9 263.8,378.9 265.1,378.9 266.4,378.9 267.7,378.9 269.1,378.9 270.4,378.9 271.7,378.9 273.0,378.9 274.3,378.9 275.6,378.9 276.9,378.9 278.3,378.9 279.6,378.9 280.9,378.9 282.2,378.9 283.5,378.9 284.8,378.9 286.1,378.9 287.5,378.9 288.8,378.9 290.1,378.9 291.4,378.9 292.7,378.9 294.0,378.9 295.4,378.9 296.7,378.9 298.0,378.9 299.3,378.9 300.6,378.9 301.9,378.9 303.2,378.9 304.6,378.9 305.9,378.9 307.2,378.9 308.5,378.9 309.8,378.9 311.1,378.9 312.4,378.9 313.8,378.9 315.1,378.9 316.4,378.9 317.7,378.9 319.0,378.9 320.3,378.9 321.6,378.9 323.0,378.9 324.3,378.9 325.6,378.9 326.9,378.9 328.2,378.9 329.5,378.9 330.8,378.9 332.2,378.9 333.5,378.9 334.8,379.0 336.1,379.0 337.4,379.0 338.7,379.0 340.0,379.0 341.4,379.0 342.7,379.0 344.0,379.0 345.3,379.0 346.6,379.0 347.9,379.0 349.2,379.0 350.6,379.0 351.9,379.0 353.2,379.0 354.5,379.0 355.8,379.0 357.1,379.0 358.4,379.0 359.8,379.0 361.1,379.0 362.4,379.0 363.7,379.0 365.0,379.0 366.3,379.0 367.7,379.0 369.0,379.0 370.3,379.0 371.6,379.0 372.9,379.0 374.2,379.0 375.5,379.0 376.9,379.1 378.2,379.1 379.5,379.1 380.8,379.1 382.1,379.1 383.4,379.1 384.7,379.1 386.1,379.1 387.4,379.1 388.7,379.1 390.0,379.1 391.3,379.1 392.6,379.1 393.9,379.1 395.3,379.1 396.6,379.1 397.9,379.1 399.2,379.1 400.5,379.1 401.8,379.1 403.1,379.1 404.5,379.1 405.8,379.1 407.1,379.1 408.4,379.1 409.7,379.1 411.0,379.1 412.3,379.1 413.7,379.1 415.0,379.1 416.3,379.1 417.6,379.1 418.9,379.1 420.2,379.1 421.5,379.0 422.9,378.9 424.2,378.7 425.5,378.4 426.8,378.1 428.1,377.7 429.4,377.2 430.7,376.8 432.1,376.4 433.4,376.0 434.7,375.8 436.0,375.7 437.3,375.6 438.6,375.6 440.0,375.5 441.3,375.5 442.6,375.5 443.9,375.5 445.2,375.5 446.5,375.5 447.8,375.6 449.2,375.6 450.5,375.6 451.8,375.6 453.1,375.6 454.4,375.6 455.7,375.5 457.0,375.5 458.4,375.4 459.7,375.3 461.0,375.1 462.3,374.9 463.6,374.6 464.9,374.4 466.2,374.1 467.6,373.8 468.9,373.4 470.2,373.0 471.5,372.6 472.8,372.1 474.1,371.7 475.4,371.2 476.8,370.7 478.1,370.1 479.4,369.4 480.7,368.8 482.0,368.1 483.3,367.4 484.6,366.7 486.0,366.0 487.3,365.3 488.6,364.5 489.9,363.8 491.2,363.1 492.5,362.4 493.8,361.7 495.2,361.0 496.5,360.3 497.8,359.6 499.1,359.0 500.4,358.3 501.7,357.6 503.1,356.9 504.4,356.2 505.7,355.5 507.0,354.8 508.3,354.1 509.6,353.4 510.9,352.7 512.3,352.0 513.6,351.3 514.9,350.5 516.2,349.8 517.5,349.1 518.8,348.3 520.1,347.6 521.5,346.8 522.8,346.1 524.1,345.3 525.4,344.5 526.7,343.7 528.0,342.9 529.3,342.1 530.7,341.2 532.0,340.3 533.3,339.4 534.6,338.5 535.9,337.5 537.2,336.4 538.5,335.4 539.9,334.2 541.2,333.1 542.5,331.8 543.8,330.6 545.1,329.4 546.4,328.0 547.7,326.5 549.1,324.7 550.4,322.8 551.7,320.9 553.0,319.1 554.3,317.3 555.6,315.5 556.9,313.6 558.3,311.6 559.6,309.7 560.9,307.6 562.2,305.6 563.5,303.5 564.8,301.1 566.1,298.5 567.5,295.6 568.8,292.6 570.1,289.4 571.4,286.2 572.7,282.8 574.0,279.3 575.4,275.7 576.7,272.0 578.0,268.3 579.3,264.5 580.6,260.5 581.9,256.5 583.2,252.2 584.6,247.9 585.9,243.5 587.2,239.0 588.5,234.4 589.8,229.7 591.1,224.9 592.4,220.0 593.8,214.9 595.1,209.7 596.4,204.4 597.7,199.1 599.0,193.6 600.3,188.0 601.6,182.4 603.0,176.6 604.3,170.7 605.6,164.7 606.9,158.6 608.2,152.5 609.5,146.2 610.8,139.8 612.2,133.4 613.5,126.8 614.8,120.2 616.1,113.6 617.4,106.8 618.7,99.9 620.0,93.0 621.4,85.9 622.7,78.8 624.0,71.5 625.3,64.3 626.6,56.9 627.9,49.5 629.2,42.2 630.6,34.9 631.9,27.8 633.2,20.7 634.5,13.5" fill="none" stroke="#ff0000" stroke-width="2.0"/></g>
<g font-family="Liberation Serif" font-size="26.5" fill="#000"><text transform="translate(143.3,69.6) scale(1,1.09)" x="-1.5">500 μA</text><text transform="translate(133.9,123.7) scale(1,1.09)" x="-1.5">750 μA</text><text transform="translate(142.6,185.2) scale(1,1.09)" x="-1.5">1 mA</text><text transform="translate(151.8,246.0) scale(1,1.09)" x="-1.5">2 mA</text><text transform="translate(344.7,58.1) scale(1,1.09)" x="-1.5">250 μA</text><text transform="translate(418.9,108.1) scale(1,1.09)" x="-1.5">100 μA</text><text transform="translate(459.8,164.4) scale(1,1.09)" x="-1.5">50 μA</text></g>
<path d="M234.1,78.4L309.0,152.9" stroke="#000" stroke-width="1.0" fill="none" marker-end="url(#ah)"/>
<path d="M221.9,128.3L308.5,176.5" stroke="#000" stroke-width="1.0" fill="none" marker-end="url(#ah)"/>
<path d="M216.3,178.0L306.8,185.1" stroke="#000" stroke-width="1.0" fill="none" marker-end="url(#ah)"/>
<path d="M219.4,232.7L308.5,206.5" stroke="#000" stroke-width="1.0" fill="none" marker-end="url(#ah)"/>
<path d="M358.4,69.3L334.0,132.9" stroke="#000" stroke-width="1.0" fill="none" marker-end="url(#ah)"/>
<path d="M411.2,109.0L365.2,134.2" stroke="#000" stroke-width="1.0" fill="none" marker-end="url(#ah)"/>
<path d="M449.0,157.2L392.3,162.6" stroke="#000" stroke-width="1.0" fill="none" marker-end="url(#ah)"/>
</svg>
</body></html>
